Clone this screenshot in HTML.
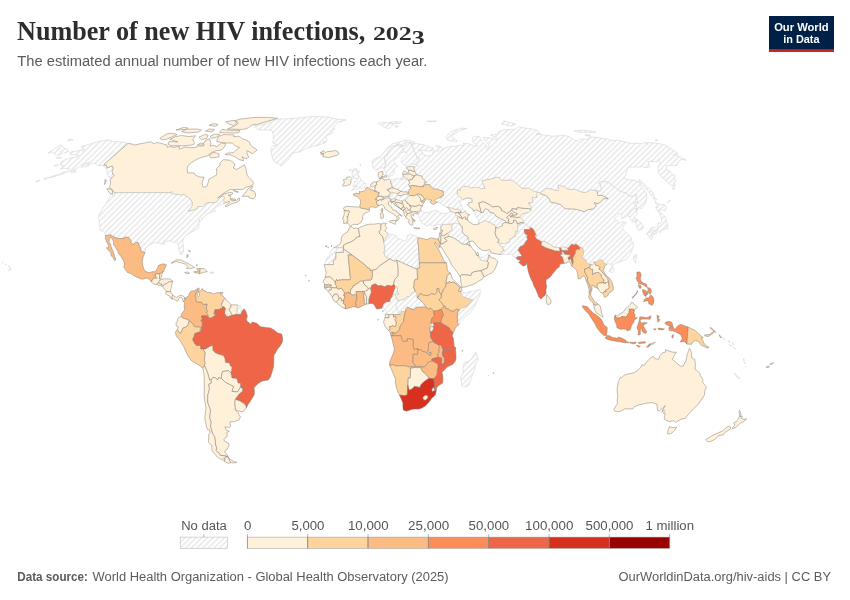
<!DOCTYPE html>
<html lang="en"><head><meta charset="utf-8"><title>Number of new HIV infections, 2023</title>
<style>
html,body{margin:0;padding:0;background:#fff;}
body{width:850px;height:600px;overflow:hidden;font-family:"Liberation Sans",sans-serif;}
svg{display:block;will-change:transform}
text{font-family:"Liberation Sans",sans-serif;}
.ttl{font-family:"Liberation Serif",serif;font-weight:700;font-size:27px;fill:#2d2d2d;}
.sub{font-size:14px;fill:#5b5b5b;}
.lg{font-size:12px;fill:#555;text-anchor:middle;}
.ft{font-size:12.5px;fill:#5b5b5b;}
.mp path{stroke:#857e78;stroke-width:0.5;stroke-linejoin:round;}
.mp path.n{fill:url(#hatch);stroke:#cfcfcf;stroke-width:0.5;}
</style></head>
<body>
<svg width="850" height="600" viewBox="0 0 850 600">
<defs>
<pattern id="hatch" patternUnits="userSpaceOnUse" width="4" height="4" patternTransform="rotate(-45 2 2)">
<rect x="-1" y="-1" width="6" height="6" fill="#fff"/>
<path d="M-1,2l6,0" stroke="#ccc" stroke-width="0.7"/>
</pattern>
</defs>
<rect width="850" height="600" fill="#fff"/>
<!-- header -->
<text class="ttl" x="17" y="39.7" textLength="348.3" lengthAdjust="spacingAndGlyphs">Number of new HIV infections,</text>
<text class="ttl" x="372.9" y="39.7" style="font-size:19.6px" textLength="51.8" lengthAdjust="spacingAndGlyphs">202<tspan dy="3.8">3</tspan></text>
<text class="sub" x="17.3" y="65.6" textLength="410" lengthAdjust="spacingAndGlyphs">The estimated annual number of new HIV infections each year.</text>
<!-- logo -->
<g>
<rect x="769" y="16" width="65" height="36" fill="#002147"/>
<rect x="769" y="49.2" width="65" height="2.8" fill="#ce261e"/>
<text x="801.4" y="30.6" text-anchor="middle" font-size="11.6" font-weight="700" fill="#fff" textLength="54.5" lengthAdjust="spacingAndGlyphs">Our World</text>
<text x="801.4" y="42.6" text-anchor="middle" font-size="11.6" font-weight="700" fill="#fff" textLength="36.3" lengthAdjust="spacingAndGlyphs">in Data</text>
</g>
<!-- map -->
<g class="mp">
<path fill="#fef0d9" d="M333.4,248.0L336.1,246.9L340.2,243.8L341.3,240.9L341.2,238.3L342.4,235.4L346.2,232.5L347.9,231.5L349.8,226.8L351.3,226.5L353.0,228.3L356.3,228.1L358.0,228.6L358.2,228.5L358.9,230.4L359.1,232.8L360.1,236.4L356.2,237.5L354.8,239.6L350.6,242.2L347.3,243.2L343.5,245.3L343.5,248.0Z"/>
<path class="n" d="M324.4,264.6L326.8,258.4L329.3,255.8L330.3,252.1L333.4,248.0L343.5,248.0L343.4,249.0L343.4,252.4L335.9,252.4L335.8,259.0L333.3,260.7L333.4,264.6Z"/>
<path fill="#fef0d9" d="M358.2,228.5L360.6,227.0L366.0,224.9L369.3,224.2L373.6,224.2L377.9,223.6L381.3,223.9L380.8,227.3L380.9,229.4L379.2,231.2L379.5,233.6L382.6,236.4L383.9,241.3L383.8,241.4L384.9,248.5L385.0,251.1L383.8,251.9L385.3,256.3L389.8,258.9L379.8,265.8L376.0,269.5L372.4,270.3L370.3,270.7L369.9,268.8L366.9,267.3L365.4,265.2L352.0,255.0L343.4,249.0L343.5,248.0L343.5,245.3L347.3,243.2L350.6,242.2L354.8,239.6L356.2,237.5L360.1,236.4L359.1,232.8L358.9,230.4Z"/>
<path fill="#fef0d9" d="M381.3,223.9L381.4,223.9L383.9,222.9L386.5,223.6L385.0,224.4L385.8,226.8L386.9,228.3L384.6,230.9L386.9,232.5L388.1,233.7L388.2,233.7L388.1,235.7L385.3,238.3L385.6,239.6L383.9,241.3L382.6,236.4L379.5,233.6L379.2,231.2L380.9,229.4L380.8,227.3Z"/>
<path class="n" d="M388.2,233.7L391.8,234.3L396.2,235.9L397.4,238.5L401.5,239.6L404.9,241.1L407.0,239.3L407.0,235.9L410.0,234.3L413.3,235.1L418.1,237.6L417.5,241.7L418.3,244.0L419.3,262.8L419.5,268.0L417.2,268.0L417.2,269.4L396.6,260.2L394.8,261.3L389.8,258.9L385.3,256.3L383.8,251.9L385.0,251.1L384.9,248.5L383.8,241.4L383.9,241.3L385.6,239.6L385.3,238.3L388.1,235.7Z"/>
<path fill="#fdd49e" d="M440.2,243.2L440.1,243.2L439.2,247.8L437.6,245.8L435.0,241.9L435.0,244.5L438.3,249.0L440.4,253.2L442.7,257.6L443.3,260.2L446.2,262.8L419.3,262.8L418.3,244.0L417.5,241.7L418.1,237.6L418.2,237.6L422.8,238.5L426.9,239.7L429.0,238.5L431.1,237.7L434.1,238.5L436.8,239.0L438.2,238.6Z"/>
<path fill="#fef0d9" d="M325.2,277.7L325.7,274.6L326.4,273.0L325.4,269.6L324.5,266.0L324.4,264.6L333.4,264.6L333.3,260.7L335.8,259.0L335.9,252.4L343.4,252.4L343.4,249.0L352.0,255.0L348.2,255.0L349.3,266.5L350.3,277.2L350.7,277.7L350.0,279.8L341.6,279.8L340.7,280.1L338.4,280.1L337.9,280.9L336.5,279.5L335.8,281.4L334.9,281.8L333.1,279.8L330.2,276.9L327.2,277.2L325.6,277.2Z"/>
<path fill="#fdd49e" d="M334.9,281.8L335.8,281.4L336.5,279.5L337.9,280.9L338.4,280.1L340.7,280.1L341.6,279.8L350.0,279.8L350.7,277.7L350.3,277.2L349.3,266.5L348.2,255.0L352.0,255.0L365.4,265.2L366.9,267.3L369.9,268.8L370.3,270.7L372.4,270.3L372.5,276.1L371.7,279.3L370.8,280.2L365.8,280.3L363.3,281.2L360.5,281.1L358.2,283.2L356.2,283.7L355.2,285.6L353.6,285.3L352.7,287.6L350.9,289.2L350.2,293.0L349.0,293.7L348.6,292.3L344.4,293.7L343.8,291.6L342.6,290.0L341.5,288.2L338.3,289.2L336.4,287.9L336.7,286.5L335.1,284.0Z"/>
<path fill="#fef0d9" d="M371.1,289.7L369.3,288.0L368.3,289.2L367.6,287.3L365.1,285.4L363.7,283.7L363.3,281.2L365.8,280.3L370.8,280.2L371.7,279.3L372.5,276.1L372.4,270.3L376.0,269.5L379.8,265.8L389.8,258.9L394.8,261.3L396.6,260.2L397.9,265.4L398.2,268.3L398.1,276.1L394.8,279.3L393.9,282.4L393.9,284.5L391.4,286.1L387.3,285.4L384.8,286.9L380.7,285.6L378.4,286.1L375.4,284.0L372.2,285.0L371.0,287.6Z"/>
<path fill="#fef0d9" d="M393.9,284.5L393.9,282.4L394.8,279.3L398.1,276.1L398.2,268.3L397.9,265.4L396.6,260.2L417.2,269.4L417.6,279.3L415.3,279.3L413.8,282.9L414.3,283.5L413.7,287.1L415.4,291.7L412.6,292.9L409.7,296.5L406.5,297.0L404.2,299.7L401.2,300.3L398.5,300.7L397.8,300.8L394.9,295.1L395.0,294.2L398.4,294.2L397.2,291.8L397.4,289.5L396.9,287.1L395.3,286.6Z"/>
<path fill="#fdd49e" d="M446.2,262.8L447.0,265.4L447.2,269.1L448.0,271.4L450.6,273.3L450.6,273.3L447.1,275.6L447.0,277.7L446.1,280.7L446.4,282.9L445.5,287.1L443.3,289.5L443.0,291.8L441.6,292.6L441.2,295.5L440.7,293.7L439.0,292.1L438.7,288.4L436.9,288.9L437.2,291.6L434.7,294.7L431.7,293.4L429.4,295.0L427.2,295.7L424.8,295.2L423.7,295.5L420.2,293.4L418.4,296.8L416.8,297.3L416.8,294.2L415.6,292.3L415.4,291.7L413.7,287.1L414.3,283.5L413.8,282.9L415.3,279.3L417.6,279.3L417.2,269.4L417.2,268.0L419.5,268.0L419.3,262.8Z"/>
<path fill="#fef0d9" d="M450.6,273.3L452.5,279.0L455.4,281.6L457.8,284.2L459.9,285.8L461.5,287.1L460.0,287.8L457.1,284.8L454.2,282.4L452.0,282.2L450.8,282.7L449.4,281.4L448.6,283.2L446.4,282.9L446.1,280.7L447.0,277.7L447.1,275.6Z"/>
<path fill="#fef0d9" d="M461.5,287.1L461.5,287.1L462.1,288.9L460.7,290.0L462.0,290.4L462.1,290.5L461.4,291.6L458.7,291.6L458.6,290.3L460.0,287.8Z"/>
<path fill="#fdd49e" d="M445.8,308.7L445.3,307.8L445.3,306.5L444.1,306.2L443.4,305.7L441.1,302.0L438.7,299.7L441.2,297.8L441.2,295.5L441.6,292.6L443.0,291.8L443.3,289.5L445.5,287.1L446.4,282.9L448.6,283.2L449.4,281.4L450.8,282.7L452.0,282.2L454.2,282.4L457.1,284.8L460.0,287.8L458.6,290.3L458.7,291.6L461.4,291.6L461.3,293.7L462.5,295.7L464.0,296.9L470.9,299.4L473.2,299.4L466.5,307.2L464.2,307.2L461.9,308.3L459.4,310.0L456.9,309.2L454.7,310.2L453.9,311.3L450.7,310.9L447.9,308.7Z"/>
<path class="n" d="M462.1,290.5L465.0,293.1L470.7,291.3L475.2,290.8L480.4,289.3L480.1,293.1L479.6,296.0L477.4,299.9L475.7,304.6L473.4,308.5L468.9,314.0L464.3,317.7L460.9,321.6L458.9,324.6L457.4,322.5L457.4,313.0L459.4,310.0L461.9,308.3L464.2,307.2L466.5,307.2L473.2,299.4L470.9,299.4L464.0,296.9L462.5,295.7L461.3,293.7L461.4,291.6Z"/>
<path fill="#fef0d9" d="M324.5,288.0L324.3,286.2L324.3,286.2L326.6,285.9L328.5,285.8L331.2,285.8L331.2,285.0L328.3,284.1L327.6,284.8L324.3,284.8L324.6,283.7L322.8,281.9L324.5,279.0L325.2,278.4L325.2,277.7L325.6,277.2L327.2,277.2L330.2,276.9L333.1,279.8L334.9,281.8L335.1,284.0L336.7,286.5L336.4,287.9L334.2,287.9L331.4,287.3L328.4,287.3Z"/>
<path fill="#fef0d9" d="M324.3,286.2L324.3,284.8L327.6,284.8L328.3,284.1L331.2,285.0L331.2,285.8L328.5,285.8L326.6,285.9Z"/>
<path fill="#fef0d9" d="M328.2,291.5L327.0,290.3L326.1,289.2L324.5,288.0L324.5,288.0L328.4,287.3L331.4,287.3L331.4,289.7L329.1,290.3Z"/>
<path fill="#fef0d9" d="M332.2,296.6L331.3,295.5L329.3,292.9L328.4,291.7L328.2,291.5L329.1,290.3L331.4,289.7L331.4,287.3L334.2,287.9L336.4,287.9L338.3,289.2L341.5,288.2L342.6,290.0L343.8,291.6L344.4,293.7L343.7,295.5L345.1,295.7L344.4,298.1L343.4,300.6L341.4,301.0L341.2,298.4L339.1,298.1L338.2,296.0L337.1,294.2L334.1,294.4L333.6,296.0Z"/>
<path fill="#fef0d9" d="M336.3,302.3L334.0,301.0L332.4,298.1L332.2,296.7L332.2,296.6L333.6,296.0L334.1,294.4L337.1,294.2L338.2,296.0L339.1,298.1L338.2,300.2Z"/>
<path fill="#fef0d9" d="M345.5,308.9L342.1,307.2L337.9,303.8L336.3,302.3L338.2,300.2L339.1,298.1L341.2,298.4L341.4,301.0L343.4,300.6L343.7,303.8L345.6,305.0L345.3,306.5Z"/>
<path fill="#fdbb84" d="M355.8,307.0L355.7,307.0L353.6,306.6L349.0,308.0L345.5,308.9L345.5,308.9L345.3,306.5L345.6,305.0L343.7,303.8L343.4,300.6L344.4,298.1L345.1,295.7L343.7,295.5L344.4,293.7L348.6,292.3L349.0,293.7L350.2,293.0L352.0,295.0L355.4,294.4L356.6,295.5L357.0,298.9L355.4,302.5L356.3,305.7Z"/>
<path fill="#fef0d9" d="M356.6,295.5L355.4,294.4L352.0,295.0L350.2,293.0L350.9,289.2L352.7,287.6L353.6,285.3L355.2,285.6L356.2,283.7L358.2,283.2L360.5,281.1L363.3,281.2L363.7,283.7L365.1,285.4L367.6,287.3L368.3,289.2L367.4,290.4L366.0,290.4L364.9,291.6L362.8,291.3L361.7,291.6L356.1,291.6Z"/>
<path fill="#fdbb84" d="M365.4,304.5L362.8,305.7L358.2,307.9L355.8,307.0L356.3,305.7L355.4,302.5L357.0,298.9L356.6,295.5L356.1,291.6L361.7,291.6L362.8,291.3L363.9,294.2L363.5,295.5L364.2,298.6L364.4,302.5Z"/>
<path fill="#fef0d9" d="M366.5,304.1L365.6,304.4L365.4,304.5L364.4,302.5L364.2,298.6L363.5,295.5L363.9,294.2L362.8,291.3L364.9,291.6L364.6,293.1L366.0,296.0L366.6,296.8L366.5,302.0Z"/>
<path fill="#fef0d9" d="M369.0,303.7L366.5,304.1L366.5,302.0L366.6,296.8L366.0,296.0L364.6,293.1L364.9,291.6L366.0,290.4L367.4,290.4L368.3,289.2L369.3,288.0L371.1,289.7L371.5,292.6L369.7,296.8L369.0,299.7Z"/>
<path fill="#ef6548" d="M382.5,308.1L382.4,308.0L378.9,308.8L376.6,309.1L374.3,305.1L373.2,303.8L370.6,303.6L369.0,303.7L369.0,299.7L369.7,296.8L371.5,292.6L371.1,289.7L371.0,287.6L372.2,285.0L375.4,284.0L378.4,286.1L380.7,285.6L384.8,286.9L387.3,285.4L391.4,286.1L393.9,284.5L395.3,286.6L395.3,287.9L394.0,291.6L393.3,293.9L392.2,297.3L390.9,298.4L390.0,302.0L387.2,302.0L386.1,302.3L384.2,303.8L383.3,305.1Z"/>
<path class="n" d="M385.4,314.3L385.4,314.3L385.2,310.4L383.3,308.3L382.5,308.1L383.3,305.1L384.2,303.8L386.1,302.3L387.2,302.0L390.0,302.0L390.9,298.4L392.2,297.3L393.3,293.9L394.0,291.6L395.3,287.9L395.3,286.6L396.9,287.1L397.4,289.5L397.2,291.8L398.4,294.2L395.0,294.2L394.9,295.1L397.8,300.8L398.5,300.7L396.4,304.1L396.2,307.2L397.4,310.1L400.2,314.6L396.3,314.6L393.5,314.6L389.0,314.6Z"/>
<path fill="#fef0d9" d="M385.0,317.7L385.4,314.3L389.0,314.6L389.0,317.7Z"/>
<path fill="#fef0d9" d="M388.5,330.6L388.4,330.5L385.2,326.6L383.6,322.4L384.3,319.3L385.0,317.7L389.0,317.7L389.0,314.6L393.5,314.6L393.5,316.9L395.8,316.6L396.3,317.9L394.9,319.8L396.3,321.9L396.0,325.3L395.3,326.8L392.3,325.5L391.6,326.6L389.6,326.6L390.2,329.4Z"/>
<path fill="#fdd49e" d="M390.4,333.3L390.0,332.1L388.5,330.6L390.2,329.4L389.6,326.6L391.6,326.6L392.3,325.5L395.3,326.8L396.0,325.3L396.3,321.9L394.9,319.8L396.3,317.9L395.8,316.6L393.5,316.9L393.5,314.6L396.3,314.6L400.2,314.6L401.1,311.2L405.7,311.2L404.6,314.6L404.1,317.7L403.6,321.6L400.2,326.0L399.7,329.4L397.8,331.5L396.0,333.1L393.7,333.1L393.0,332.3Z"/>
<path class="n" d="M400.2,314.6L397.4,310.1L396.2,307.2L396.4,304.1L398.5,300.7L401.2,300.3L404.2,299.7L406.5,297.0L409.7,296.5L412.6,292.9L415.4,291.7L415.6,292.3L416.8,294.2L416.8,297.3L419.2,298.9L420.8,300.7L423.6,303.1L425.9,307.0L421.1,307.2L419.0,307.0L415.6,307.8L414.4,309.6L410.1,308.7L407.7,307.0L405.7,308.8L405.7,311.2L401.1,311.2Z"/>
<path fill="#fdd49e" d="M444.1,306.2L442.5,307.6L441.2,309.3L437.5,310.5L436.4,310.9L433.9,311.2L430.8,308.3L428.3,309.1L425.9,307.0L423.6,303.1L420.8,300.7L419.2,298.9L416.8,297.3L418.4,296.8L420.2,293.4L423.7,295.5L424.8,295.2L427.2,295.7L429.4,295.0L431.7,293.4L434.7,294.7L437.2,291.6L436.9,288.9L438.7,288.4L439.0,292.1L440.7,293.7L441.2,295.5L441.2,297.8L438.7,299.7L441.1,302.0L443.4,305.7Z"/>
<path fill="#fdbb84" d="M391.1,336.1L390.9,335.5L392.7,335.6L393.0,332.3L393.7,333.1L396.0,333.1L397.8,331.5L399.7,329.4L400.2,326.0L403.6,321.6L404.1,317.7L404.6,314.6L405.7,311.2L405.7,308.8L407.7,307.0L410.1,308.7L414.4,309.6L415.6,307.8L419.0,307.0L421.1,307.2L425.9,307.0L428.3,309.1L430.8,308.3L433.9,311.2L433.7,314.0L435.0,314.7L433.2,317.2L431.9,318.2L431.1,321.9L431.1,324.0L429.7,327.5L430.2,330.5L430.3,331.9L430.7,337.3L433.5,341.7L429.3,342.5L428.5,344.6L428.5,348.3L427.9,351.4L429.3,352.7L431.1,352.0L431.0,355.4L429.2,355.3L427.0,353.0L425.8,352.3L422.4,351.4L420.9,349.6L418.8,350.1L417.9,348.8L414.0,349.6L412.9,345.1L413.2,342.0L413.0,339.4L407.3,338.6L407.4,341.2L403.3,341.5L401.7,339.1L401.0,335.7L393.7,335.7Z"/>
<path fill="#fc8d59" d="M441.0,322.9L433.2,323.0L431.1,324.0L431.1,321.9L431.9,318.2L433.2,317.2L435.0,314.7L433.7,314.0L433.9,311.2L436.4,310.9L437.5,310.5L441.2,309.3L442.1,310.6L443.6,315.3L442.4,317.4L441.5,319.3Z"/>
<path fill="#fdbb84" d="M458.9,324.6L458.8,324.7L457.2,326.3L455.5,327.6L454.3,330.8L453.2,332.5L449.8,329.8L449.5,328.1L441.0,322.9L441.5,319.3L442.4,317.4L443.6,315.3L442.1,310.6L441.2,309.3L442.5,307.6L444.1,306.2L445.3,306.5L445.3,307.8L445.8,308.7L447.9,308.7L450.7,310.9L453.9,311.3L454.7,310.2L456.9,309.2L459.4,310.0L457.4,313.0L457.4,322.5Z"/>
<path class="n" d="M433.2,323.0L434.0,325.5L433.2,326.6L432.0,326.4L429.7,327.5L431.1,324.0Z"/>
<path fill="#fef0d9" d="M433.2,326.6L433.8,328.9L432.0,331.7L430.3,331.9L430.2,330.5L429.7,327.5L432.0,326.4Z"/>
<path fill="#ef6548" d="M453.2,332.5L453.2,332.6L452.2,336.0L453.3,338.1L453.7,341.2L454.2,346.4L455.6,347.7L451.1,350.1L448.8,350.9L443.0,350.6L440.9,345.1L438.5,344.9L434.1,342.8L433.5,341.7L430.7,337.3L430.3,331.9L432.0,331.7L433.8,328.9L433.2,326.6L434.0,325.5L433.2,323.0L441.0,322.9L449.5,328.1L449.8,329.8Z"/>
<path fill="#fdbb84" d="M390.9,335.5L390.9,335.5L390.5,333.4L390.4,333.3L393.0,332.3L392.7,335.6Z"/>
<path fill="#fdbb84" d="M389.6,365.3L389.7,362.1L390.7,359.5L393.5,353.0L394.5,349.0L393.1,343.8L392.3,339.9L391.1,336.2L391.1,336.1L393.7,335.7L401.0,335.7L401.7,339.1L403.3,341.5L407.4,341.2L407.3,338.6L413.0,339.4L413.2,342.0L412.9,345.1L414.0,349.6L417.9,348.8L417.8,354.3L413.2,354.3L413.0,362.6L416.1,366.3L410.6,367.2L404.7,365.8L394.7,365.8L393.6,364.7Z"/>
<path fill="#fdbb84" d="M416.1,366.3L413.0,362.6L413.2,354.3L417.8,354.3L417.9,348.8L418.8,350.1L420.9,349.6L422.4,351.4L425.8,352.3L427.0,353.0L429.2,355.3L431.0,355.4L431.1,352.0L429.3,352.7L427.9,351.4L428.5,348.3L428.5,344.6L429.3,342.5L433.5,341.7L434.1,342.8L438.5,344.9L439.7,346.9L439.0,348.8L439.1,352.4L438.4,353.2L437.6,355.8L438.8,356.9L431.8,359.0L432.2,361.1L428.7,362.0L424.2,367.2L420.2,366.8Z"/>
<path fill="#fdbb84" d="M443.0,350.6L442.3,352.7L442.7,355.6L444.6,358.4L444.5,362.1L443.3,363.4L442.7,365.0L441.1,362.1L441.8,360.3L441.5,357.9L439.8,358.2L438.8,356.9L437.6,355.8L438.4,353.2L439.1,352.4L439.0,348.8L439.7,346.9L438.5,344.9L440.9,345.1Z"/>
<path fill="#ef6548" d="M455.6,347.7L455.6,347.7L455.8,353.0L456.1,358.2L455.5,360.8L452.8,364.2L447.0,367.1L443.3,371.2L441.9,372.0L442.7,375.2L442.9,379.1L442.7,383.0L438.0,386.1L436.5,388.2L436.3,390.4L434.6,390.4L434.5,388.0L434.5,383.8L433.5,378.8L436.1,375.9L437.6,372.0L437.0,371.2L437.9,367.3L437.8,363.9L434.2,362.1L432.2,361.1L431.8,359.0L438.8,356.9L439.8,358.2L441.5,357.9L441.8,360.3L441.1,362.1L442.7,365.0L443.3,363.4L444.5,362.1L444.6,358.4L442.7,355.6L442.3,352.7L443.0,350.6L448.8,350.9L451.1,350.1Z"/>
<path fill="#fdbb84" d="M429.1,378.3L425.5,373.9L422.2,371.2L420.2,366.8L424.2,367.2L428.7,362.0L432.2,361.1L434.2,362.1L437.8,363.9L437.9,367.3L437.0,371.2L437.6,372.0L436.1,375.9L433.5,378.8Z"/>
<path fill="#fef0d9" d="M407.7,385.0L408.0,377.8L410.2,377.8L410.5,368.1L415.8,367.3L417.4,367.6L420.2,366.8L422.2,371.2L425.5,373.9L429.1,378.3L423.6,382.1L421.0,384.8L420.0,387.4L414.4,386.4L412.0,389.0L409.1,390.3Z"/>
<path fill="#fdd49e" d="M399.5,395.1L399.5,395.0L397.8,392.1L396.6,388.2L395.4,383.0L395.5,379.1L393.4,373.9L391.2,368.6L389.6,365.4L389.6,365.3L393.6,364.7L394.7,365.8L404.7,365.8L410.6,367.2L416.1,366.3L420.2,366.8L417.4,367.6L415.8,367.3L410.5,368.1L410.2,377.8L408.0,377.8L407.7,385.0L407.3,394.5L405.0,395.8L401.5,395.3Z"/>
<path fill="#d7301f" d="M436.3,390.4L435.4,394.8L432.7,397.4L431.5,398.4L429.0,402.1L425.3,406.0L421.9,408.1L418.9,409.1L414.1,409.1L410.8,409.7L406.3,411.2L403.2,409.9L402.9,406.5L402.9,403.1L401.1,398.7L399.5,395.1L401.5,395.3L405.0,395.8L407.3,394.5L407.7,385.0L409.1,390.3L412.0,389.0L414.4,386.4L420.0,387.4L421.0,384.8L423.6,382.1L429.1,378.3L433.5,378.8L434.5,383.8L434.5,388.0L434.6,390.4Z"/>
<path class="n" d="M111.0,178.4L110.0,177.7L108.3,176.5L107.3,174.2L107.0,171.8L106.8,169.9L105.4,167.7L103.7,166.2L101.1,165.5L97.4,165.5L96.6,164.6L95.8,163.6L94.5,163.1L91.8,163.9L89.0,165.6L84.2,167.0L81.0,167.2L85.5,164.1L89.5,162.7L87.1,163.1L83.9,164.1L80.3,166.0L77.4,167.9L73.6,169.9L66.6,172.5L61.3,174.5L57.5,175.7L52.1,177.2L48.3,177.7L55.5,175.2L61.9,173.0L65.9,171.3L69.5,168.7L67.4,168.4L63.7,168.4L60.1,168.9L61.4,167.9L63.6,165.8L61.2,165.8L60.2,163.9L61.5,161.7L64.5,160.1L68.4,158.4L74.3,157.3L77.0,156.8L78.8,155.2L75.5,154.9L71.3,154.9L70.0,154.5L69.9,152.4L75.4,151.1L80.3,150.4L83.2,151.1L84.8,149.5L81.7,149.2L82.3,147.9L81.2,146.3L86.4,145.0L90.5,143.9L96.8,141.9L102.5,140.8L107.2,139.8L111.0,140.6L113.1,141.5L117.7,141.7L121.3,142.1L125.1,142.4L127.8,143.5L103.7,164.8L106.5,165.3L107.0,167.9L110.2,166.7L112.6,166.0L113.3,168.2L112.0,171.6L112.8,172.8L112.3,173.8L114.4,175.2L112.1,177.7Z"/>
<path fill="#fef0d9" d="M114.3,192.7L113.6,191.4L112.0,189.4L109.3,187.7L110.2,185.1L110.6,182.1L110.0,179.9L111.1,178.4L111.0,178.4L112.1,177.7L114.4,175.2L112.3,173.8L112.8,172.8L112.0,171.6L113.3,168.2L112.6,166.0L110.2,166.7L107.0,167.9L106.5,165.3L103.7,164.8L127.8,143.5L130.9,143.7L134.3,145.0L139.8,143.9L147.5,142.4L151.3,141.9L154.0,143.9L156.3,142.6L160.0,143.0L163.8,144.1L167.1,145.0L167.2,147.4L169.7,146.5L174.0,147.4L179.3,146.3L179.2,149.2L185.4,147.0L189.9,147.7L195.2,147.4L198.2,145.9L204.2,145.9L203.5,143.7L205.5,140.4L209.7,138.5L210.3,141.5L211.0,143.7L210.1,145.9L214.8,145.2L216.0,147.0L221.5,143.0L225.5,143.2L225.2,145.9L221.5,150.1L215.8,150.8L213.6,151.5L210.6,153.3L206.9,156.1L201.6,157.3L196.4,159.6L191.7,162.4L188.1,165.5L187.2,168.4L187.6,172.8L194.1,173.0L195.6,175.2L199.4,176.9L204.1,177.2L203.6,178.9L202.0,183.1L203.1,186.9L204.3,187.2L206.7,186.4L208.1,182.6L209.0,178.9L211.5,177.7L216.4,175.2L216.9,172.8L216.4,168.7L220.0,165.5L220.0,163.1L223.4,159.6L230.2,160.3L232.8,162.2L235.1,164.3L233.5,167.9L236.4,169.6L241.5,166.7L244.3,164.8L245.9,168.2L246.4,171.6L247.2,175.2L249.1,177.7L251.5,180.2L253.5,182.6L252.9,184.9L249.9,186.4L246.7,186.9L242.9,189.4L236.9,189.4L229.8,189.7L225.9,191.9L221.9,194.7L217.6,198.1L220.2,196.5L224.2,194.0L229.9,192.2L233.0,193.0L232.1,194.5L228.2,195.3L230.7,195.8L230.4,197.8L230.4,199.8L233.1,200.9L236.4,200.4L239.2,197.8L239.7,200.4L236.9,202.2L231.2,204.0L226.5,206.8L224.9,206.0L229.8,202.2L229.3,201.4L226.5,202.4L224.1,203.4L223.8,203.6L223.4,202.4L223.9,201.4L223.3,200.6L224.4,197.5L223.6,196.9L221.8,196.7L219.5,198.6L218.2,200.6L216.7,201.9L215.3,202.4L214.9,202.9L207.7,202.9L204.2,205.0L202.6,206.5L198.7,206.5L197.5,206.9L197.6,207.3L197.3,208.6L194.7,209.9L188.9,211.4L187.9,210.7L188.1,210.1L189.8,209.1L190.4,208.1L191.6,206.5L192.5,202.2L190.7,200.9L191.2,200.1L189.6,199.1L189.2,198.1L183.7,194.5L181.5,195.3L180.2,195.0L175.4,194.5L171.6,193.5L171.4,191.7L170.9,192.7Z"/>
<path class="n" d="M105.5,235.4L105.4,235.1L104.0,232.0L102.5,231.2L99.9,230.2L100.4,228.3L99.1,225.2L99.5,223.9L99.3,222.1L98.9,220.5L98.7,217.4L98.8,214.8L101.1,211.2L102.3,208.3L105.6,204.2L108.2,199.8L109.1,198.1L110.3,194.2L112.9,194.9L113.5,196.5L115.2,193.0L114.3,192.7L170.9,192.7L171.4,191.7L171.6,193.5L175.4,194.5L180.2,195.0L181.5,195.3L183.7,194.5L189.2,198.1L189.6,199.1L191.2,200.1L190.7,200.9L192.5,202.2L191.6,206.5L190.4,208.1L189.8,209.1L188.1,210.1L187.9,210.7L188.9,211.4L194.7,209.9L197.3,208.6L197.6,207.3L197.5,206.9L198.7,206.5L202.6,206.5L204.2,205.0L207.7,202.9L214.9,202.9L215.3,202.4L216.7,201.9L218.2,200.6L219.5,198.6L221.8,196.7L223.6,196.9L224.4,197.5L223.3,200.6L223.9,201.4L223.4,202.4L223.8,203.6L219.3,205.2L215.2,207.6L214.1,209.6L215.5,210.7L215.2,211.4L212.3,212.0L210.6,212.7L205.9,214.3L205.2,215.8L202.7,218.4L201.7,217.4L202.1,219.0L201.6,220.0L199.4,222.3L199.5,219.7L198.4,223.1L198.9,224.2L198.7,228.2L195.7,229.6L192.4,231.7L189.1,233.6L185.1,236.2L183.4,238.5L182.7,241.9L183.4,246.1L183.6,251.1L182.3,254.5L180.5,254.5L179.6,251.9L178.4,247.7L178.4,244.3L176.3,241.9L173.6,242.7L171.4,240.9L168.0,241.1L164.6,241.4L164.4,244.3L161.8,244.0L158.7,243.0L154.8,242.7L151.8,244.0L148.0,245.8L145.7,248.5L145.0,252.5L142.9,252.1L141.0,251.3L140.7,248.5L139.2,245.6L138.0,242.4L135.6,242.4L133.5,244.5L131.0,243.0L130.7,240.1L128.3,237.2L124.5,237.2L124.1,238.5L117.9,238.5L110.6,235.4L111.0,234.9Z"/>
<path fill="#fdbb84" d="M151.7,282.1L149.9,280.3L148.3,278.5L146.1,278.0L142.5,279.3L139.2,278.2L135.4,276.4L132.8,275.1L130.8,273.5L127.5,272.5L125.6,270.1L123.6,267.0L124.5,265.4L124.5,262.8L122.8,259.4L120.2,255.2L118.4,253.4L117.8,251.1L116.5,249.2L115.4,247.1L113.5,244.5L113.6,241.9L112.4,238.5L110.0,237.2L109.3,239.3L109.1,241.9L110.5,244.8L111.5,247.7L112.9,250.8L113.8,253.7L114.7,256.8L116.0,259.7L114.7,260.5L113.0,257.6L111.0,255.5L110.8,252.4L108.4,250.3L106.4,247.7L108.4,247.7L108.6,245.8L107.5,243.5L106.4,240.9L105.5,238.0L105.6,235.4L105.5,235.4L111.0,234.9L110.6,235.4L117.9,238.5L124.1,238.5L124.5,237.2L128.3,237.2L130.7,240.1L131.0,243.0L133.5,244.5L135.6,242.4L138.0,242.4L139.2,245.6L140.7,248.5L141.0,251.3L142.9,252.1L145.0,252.5L145.0,252.6L142.9,257.6L142.2,262.0L142.8,266.0L144.3,269.9L145.2,271.2L147.4,272.0L149.1,272.8L152.6,271.7L154.9,271.7L157.6,268.3L158.5,265.2L162.7,263.9L165.0,264.1L166.5,264.9L164.3,269.4L163.5,272.0L162.1,272.0L162.4,272.1L160.8,273.3L160.0,273.4L160.0,273.8L155.8,273.8L155.6,275.2L154.7,275.2L156.7,277.5L156.6,278.2L153.6,278.2L152.2,280.3Z"/>
<path fill="#fef0d9" d="M156.8,284.5L156.6,284.4L153.5,284.0L152.0,282.4L151.7,282.1L152.2,280.3L153.6,278.2L156.6,278.2L156.7,277.5L154.7,275.2L155.6,275.2L155.8,273.8L160.0,273.8L159.3,278.8L159.9,278.8L160.6,279.0L161.4,279.3L159.0,281.4L158.5,282.7Z"/>
<path fill="#fef0d9" d="M162.4,272.1L162.6,272.2L162.0,274.6L161.3,277.2L159.9,278.8L159.3,278.8L160.0,273.8L160.0,273.4L160.8,273.3Z"/>
<path fill="#fef0d9" d="M161.8,285.8L159.0,285.6L156.8,284.5L158.5,282.7L160.3,283.7L161.9,284.0Z"/>
<path fill="#fef0d9" d="M163.0,286.6L162.9,286.3L161.8,285.8L161.9,284.0L160.3,283.7L158.5,282.7L159.0,281.4L161.4,279.3L161.5,279.3L163.1,279.0L166.6,278.8L170.0,278.9L172.6,281.0L170.8,281.6L168.5,282.2L166.5,283.7L164.4,284.2Z"/>
<path fill="#fef0d9" d="M166.1,291.4L166.1,291.3L165.5,290.3L163.4,287.6L163.0,286.6L164.4,284.2L166.5,283.7L168.5,282.2L170.8,281.6L172.6,281.0L172.7,281.1L171.7,285.0L170.9,288.9L170.7,291.8L167.9,291.7Z"/>
<path fill="#fef0d9" d="M172.1,299.1L171.2,298.4L170.5,298.1L169.7,296.0L167.5,295.0L165.7,293.7L166.1,291.4L167.9,291.7L170.7,291.8L170.7,291.8L171.3,292.9L172.9,295.1L172.2,296.8Z"/>
<path fill="#fef0d9" d="M183.4,301.4L182.8,300.7L182.3,298.1L180.0,297.0L178.8,298.6L177.5,301.2L175.3,300.2L174.2,298.9L172.1,299.1L172.2,296.8L172.9,295.1L173.0,295.2L174.3,296.5L176.5,297.3L179.2,295.7L179.9,295.2L182.4,295.5L184.8,297.6L184.9,297.6L184.9,299.7Z"/>
<path fill="#fdbb84" d="M180.7,316.6L181.0,316.1L181.7,313.8L184.6,309.8L184.2,305.9L184.6,303.3L183.5,301.5L183.4,301.4L184.9,299.7L184.9,297.6L185.9,299.1L186.9,297.0L188.8,295.5L189.4,292.9L190.9,291.3L194.2,290.8L196.6,289.2L198.5,287.8L199.2,289.3L196.9,291.3L195.0,296.0L196.3,298.6L195.9,301.0L197.0,302.0L201.4,302.0L202.9,304.4L207.3,304.1L206.6,306.5L206.5,309.3L207.6,311.4L206.4,313.0L207.8,314.3L208.4,317.2L206.1,315.7L201.6,315.9L201.6,317.6L203.1,317.7L201.1,320.6L202.5,322.9L201.5,331.3L199.8,330.2L201.2,327.4L194.6,326.6L192.7,323.7L189.3,320.6L186.7,319.3L184.0,318.5Z"/>
<path fill="#fdd49e" d="M199.2,289.3L199.3,289.5L198.2,291.6L199.2,291.6L201.5,290.0L202.3,288.4L202.7,290.3L205.8,291.0L206.7,292.6L210.8,292.6L213.5,293.9L215.4,293.1L218.6,292.6L220.7,292.3L220.4,294.2L223.0,296.0L225.1,298.5L223.3,300.4L221.4,304.9L222.9,306.7L221.0,308.8L218.0,309.8L215.2,309.6L214.0,313.8L216.5,314.6L211.6,317.9L209.8,318.3L208.4,317.2L207.8,314.3L206.4,313.0L207.6,311.4L206.5,309.3L206.6,306.5L207.3,304.1L202.9,304.4L201.4,302.0L197.0,302.0L195.9,301.0L196.3,298.6L195.0,296.0L196.9,291.3Z"/>
<path fill="#fef0d9" d="M225.1,298.5L225.2,298.6L228.8,302.5L231.2,304.8L230.7,307.2L229.1,309.8L232.4,315.3L229.0,316.4L226.7,316.9L224.4,313.2L225.2,308.8L224.5,307.2L222.9,306.7L221.4,304.9L223.3,300.4Z"/>
<path fill="#fef0d9" d="M231.2,304.8L231.3,304.9L235.6,304.8L238.2,305.1L237.4,307.2L237.1,314.3L233.8,315.1L232.4,315.3L229.1,309.8L230.7,307.2Z"/>
<path class="n" d="M238.2,305.1L238.4,305.1L242.3,307.5L243.8,309.2L241.7,311.9L240.8,314.6L237.1,314.3L237.4,307.2Z"/>
<path fill="#fef0d9" d="M177.4,329.5L177.6,329.2L178.3,326.8L176.2,326.0L176.1,322.9L177.0,321.6L178.2,318.2L180.7,316.6L180.7,316.6L184.0,318.5L186.7,319.3L189.3,320.6L188.4,324.2L186.3,326.8L182.9,328.1L182.0,330.2L180.7,333.4L178.4,331.8Z"/>
<path fill="#fdd49e" d="M202.6,368.1L200.0,365.8L195.2,362.9L191.1,360.3L188.2,356.4L186.0,351.7L183.6,346.4L181.3,342.5L179.1,339.1L176.2,336.0L175.4,332.1L177.4,329.5L178.4,331.8L180.7,333.4L182.0,330.2L182.9,328.1L186.3,326.8L188.4,324.2L189.3,320.6L192.7,323.7L194.6,326.6L201.2,327.4L199.8,330.2L201.5,331.3L194.8,333.6L194.2,336.2L192.7,339.6L195.0,343.8L196.7,345.6L200.6,345.1L200.8,349.0L203.1,348.9L205.4,353.0L204.9,356.1L204.4,359.0L204.4,361.1L205.4,362.6L204.5,365.2L204.6,366.0Z"/>
<path fill="#ef6548" d="M243.8,309.2L243.8,309.3L245.2,310.1L247.4,315.9L246.3,319.8L247.4,321.6L250.9,324.2L252.0,322.1L256.7,323.2L260.6,326.8L266.4,327.6L270.5,327.9L274.0,330.0L277.5,332.8L281.7,334.1L282.7,338.8L282.3,342.2L280.1,345.9L277.2,349.6L274.6,354.3L273.8,355.6L273.8,360.8L273.6,366.8L271.7,373.3L270.2,377.3L268.1,380.1L265.4,380.4L262.5,380.9L258.6,383.0L257.2,384.6L253.9,387.7L254.4,390.8L254.2,394.8L251.1,400.0L248.2,404.2L246.2,407.9L246.0,405.7L243.9,403.6L240.0,400.9L239.1,400.8L235.3,399.2L238.6,394.5L242.6,391.1L242.7,388.7L240.4,387.2L240.6,383.3L238.1,383.0L236.8,378.6L232.0,378.0L230.9,372.9L231.6,369.9L232.0,367.3L230.1,365.5L229.6,362.9L225.5,362.6L224.9,358.2L223.2,355.6L219.0,354.3L215.2,352.7L212.8,350.3L212.8,345.6L210.0,346.2L205.6,349.0L203.1,348.9L200.8,349.0L200.6,345.1L196.7,345.6L195.0,343.8L192.7,339.6L194.2,336.2L194.8,333.6L201.5,331.3L202.5,322.9L201.1,320.6L203.1,317.7L201.6,317.6L201.6,315.9L206.1,315.7L208.4,317.2L209.8,318.3L211.6,317.9L216.5,314.6L214.0,313.8L215.2,309.6L218.0,309.8L221.0,308.8L222.9,306.7L224.5,307.2L225.2,308.8L224.4,313.2L226.7,316.9L229.0,316.4L232.4,315.3L233.8,315.1L237.1,314.3L240.8,314.6L241.7,311.9Z"/>
<path fill="#fef0d9" d="M204.6,366.0L204.5,365.2L205.4,362.6L204.4,361.1L204.4,359.0L204.9,356.1L205.4,353.0L203.1,348.9L205.6,349.0L210.0,346.2L212.8,345.6L212.8,350.3L215.2,352.7L219.0,354.3L223.2,355.6L224.9,358.2L225.5,362.6L229.6,362.9L230.1,365.5L232.0,367.3L231.6,369.9L230.9,372.9L228.7,370.7L222.6,371.5L221.8,373.9L221.3,378.4L218.5,377.8L217.8,379.9L215.5,378.0L213.2,377.3L211.2,379.9L209.6,379.9L208.6,376.5L207.9,373.9L206.4,369.9Z"/>
<path fill="#fef0d9" d="M221.3,378.4L221.8,373.9L222.6,371.5L228.7,370.7L230.9,372.9L232.0,378.0L236.8,378.6L238.1,383.0L240.6,383.3L240.4,387.2L238.0,391.6L236.7,391.9L231.9,391.4L233.5,386.4L230.2,384.8L225.5,382.5Z"/>
<path fill="#fef0d9" d="M227.7,456.5L226.0,456.5L223.7,457.5L224.6,459.9L223.8,460.2L219.1,458.5L215.8,455.5L212.0,450.4L211.6,445.3L208.3,442.0L208.7,437.7L208.7,434.6L210.0,432.5L209.6,429.9L207.3,429.4L206.6,427.4L205.5,422.2L204.8,417.5L205.4,413.0L205.9,407.8L205.5,405.2L204.6,400.0L204.1,394.8L204.4,388.2L204.2,383.0L204.2,377.8L203.7,372.6L202.8,368.2L202.6,368.1L204.6,366.0L206.4,369.9L207.9,373.9L208.6,376.5L209.6,379.9L211.2,379.9L211.4,383.0L208.8,384.3L209.5,389.0L207.9,394.8L207.7,398.7L207.8,402.6L209.3,406.5L210.5,409.9L210.1,414.3L209.8,418.3L211.3,422.2L210.5,426.1L211.7,429.9L212.8,433.8L214.7,436.4L215.4,440.2L215.5,444.1L216.8,447.9L216.0,450.4L219.0,452.9L220.7,455.5L224.6,455.5Z"/>
<path fill="#fef0d9" d="M235.4,409.3L235.2,409.1L235.5,410.4L238.3,412.5L239.0,414.9L240.4,416.7L239.2,419.8L234.4,421.6L229.8,421.9L230.7,426.3L229.6,427.6L224.9,426.8L226.3,430.2L229.3,431.2L226.8,432.5L227.3,436.4L225.3,437.7L223.9,439.7L224.2,440.8L228.5,443.3L229.0,445.3L226.8,449.9L224.6,451.4L225.6,452.9L228.2,456.5L227.7,456.5L224.6,455.5L220.7,455.5L219.0,452.9L216.0,450.4L216.8,447.9L215.5,444.1L215.4,440.2L214.7,436.4L212.8,433.8L211.7,429.9L210.5,426.1L211.3,422.2L209.8,418.3L210.1,414.3L210.5,409.9L209.3,406.5L207.8,402.6L207.7,398.7L207.9,394.8L209.5,389.0L208.8,384.3L211.4,383.0L211.2,379.9L213.2,377.3L215.5,378.0L217.8,379.9L218.5,377.8L221.3,378.4L225.5,382.5L230.2,384.8L233.5,386.4L231.9,391.4L236.7,391.9L238.0,391.6L240.4,387.2L242.7,388.7L242.6,391.1L238.6,394.5L235.3,399.2L234.9,402.6L235.2,406.5Z"/>
<path fill="#fef0d9" d="M246.2,407.9L246.0,408.3L245.9,408.6L243.3,411.6L240.5,411.5L236.5,410.2L235.4,409.3L235.2,406.5L234.9,402.6L235.3,399.2L239.1,400.8L240.0,400.9L243.9,403.6L246.0,405.7Z"/>
<path fill="#fef0d9" d="M441.0,229.9L441.0,229.8L440.6,226.6L441.2,226.6L442.0,225.7L442.0,224.2L444.8,224.2L447.0,224.4L449.1,224.0L454.1,223.4L452.1,224.9L452.2,230.4L447.8,233.2L443.7,235.9L441.3,234.9L440.9,233.4L441.3,233.0L442.7,230.9L442.2,230.2Z"/>
<path fill="#fef0d9" d="M439.5,233.8L440.4,231.7L441.0,229.9L442.2,230.2L442.7,230.9L441.3,233.0L440.9,233.4Z"/>
<path fill="#fef0d9" d="M440.5,243.4L440.5,243.1L440.2,243.2L438.2,238.6L438.4,238.5L439.2,236.7L439.5,233.8L439.5,233.8L440.9,233.4L441.3,234.9L440.9,235.7L441.1,238.0L440.7,241.9Z"/>
<path fill="#fef0d9" d="M440.5,243.7L440.5,243.6L440.5,243.4L440.7,241.9L441.1,238.0L440.9,235.7L441.3,234.9L443.7,235.9L447.8,233.2L449.0,236.3L444.4,238.0L446.9,240.6L445.9,241.9L444.3,242.3L443.0,244.0Z"/>
<path class="n" d="M470.5,242.1L469.1,241.9L469.2,242.1L468.4,241.7L467.9,241.9L466.2,244.3L462.1,244.0L455.7,239.0L451.7,237.0L449.0,236.3L447.8,233.2L452.2,230.4L452.1,224.9L454.1,223.4L459.4,223.3L461.2,226.3L462.5,226.8L462.3,230.0L462.2,231.7L463.7,234.1L468.2,237.2L468.1,239.3L469.0,240.6Z"/>
<path fill="#fef0d9" d="M469.2,242.1L469.3,243.5L470.4,245.5L469.0,245.8L468.2,244.5L466.2,244.3L467.9,241.9L468.4,241.7Z"/>
<path fill="#fef0d9" d="M470.4,245.5L470.5,245.7L472.2,248.5L474.9,251.1L476.1,253.7L476.7,255.5L477.3,255.5L477.2,255.4L478.5,256.0L478.5,256.0L478.8,256.8L478.9,257.3L481.3,260.3L487.3,261.0L488.5,262.8L487.5,268.0L480.9,270.7L474.4,271.7L471.9,272.8L471.0,275.6L468.7,275.2L464.1,274.8L461.4,274.8L460.2,277.0L458.4,273.8L456.3,270.7L453.4,267.3L451.2,264.1L449.6,260.2L446.4,255.5L444.6,252.4L441.2,247.1L440.1,246.9L440.5,243.7L443.0,244.0L444.3,242.3L445.9,241.9L446.9,240.6L444.4,238.0L449.0,236.3L451.7,237.0L455.7,239.0L462.1,244.0L466.2,244.3L468.2,244.5L469.0,245.8Z"/>
<path fill="#fef0d9" d="M477.2,255.4L476.7,253.4L477.5,252.1L478.6,254.2L478.5,256.0Z"/>
<path class="n" d="M478.8,256.8L480.9,257.1L484.3,257.1L486.9,254.2L488.5,252.4L489.0,251.3L489.5,255.2L488.6,255.2L488.8,257.3L487.3,261.0L481.3,260.3L478.9,257.3Z"/>
<path fill="#fef0d9" d="M489.5,255.2L491.1,257.6L494.8,258.6L497.8,261.5L496.0,266.7L494.0,270.7L491.3,273.3L488.5,274.6L485.8,275.9L483.9,276.8L480.9,270.7L487.5,268.0L488.5,262.8L487.3,261.0L488.8,257.3L488.6,255.2Z"/>
<path fill="#fef0d9" d="M483.9,276.8L483.8,276.8L482.0,279.5L479.3,280.6L474.9,283.7L471.5,285.0L465.9,286.9L462.5,287.3L461.7,285.6L460.8,281.6L460.4,277.5L460.2,277.0L461.4,274.8L464.1,274.8L468.7,275.2L471.0,275.6L471.9,272.8L474.4,271.7L480.9,270.7Z"/>
<path fill="#fef0d9" d="M501.1,254.5L501.1,254.5L497.4,254.2L494.0,253.4L491.2,252.9L489.7,249.5L485.8,250.8L482.4,250.3L478.8,247.9L476.2,245.1L473.5,241.4L471.2,240.9L470.5,242.1L470.5,242.1L469.0,240.6L468.1,239.3L468.2,237.2L463.7,234.1L462.2,231.7L462.3,230.0L462.5,226.8L461.2,226.3L459.4,223.3L457.7,221.0L456.7,217.4L458.2,216.6L462.4,218.7L464.6,216.7L465.9,217.5L465.5,219.0L467.6,219.8L467.6,219.9L469.4,222.5L470.5,222.6L473.0,224.4L475.2,224.7L479.3,223.9L478.7,222.7L478.7,222.7L480.8,222.5L483.0,220.8L485.5,220.4L488.4,222.0L490.4,222.3L493.1,224.6L494.9,224.6L495.6,227.2L495.8,230.2L495.1,232.4L496.1,236.2L496.9,238.0L499.2,239.7L497.7,242.3L500.5,245.7L502.7,246.5L502.9,249.1L504.0,249.2L504.4,250.7L501.3,251.7Z"/>
<path fill="#fef0d9" d="M450.4,211.9L450.5,211.8L450.2,210.1L448.6,208.1L447.0,207.3L450.6,207.6L454.7,209.1L457.1,208.8L460.6,210.9L461.3,213.0L457.9,212.5L454.7,213.0L452.5,212.1Z"/>
<path fill="#fef0d9" d="M458.2,216.6L455.6,215.6L454.7,213.0L457.9,212.5L459.4,213.8L460.5,215.3L461.9,217.1L462.4,218.7Z"/>
<path fill="#fef0d9" d="M465.2,211.1L466.3,212.5L467.7,214.0L469.8,214.9L468.0,215.3L467.4,217.7L467.6,219.8L465.5,219.0L465.9,217.5L464.6,216.7L462.4,218.7L461.9,217.1L460.5,215.3L459.4,213.8L457.9,212.5L461.3,213.0L460.6,210.9L462.7,212.5Z"/>
<path class="n" d="M478.7,222.7L478.1,218.7L476.8,217.7L475.3,215.8L474.9,213.0L474.2,210.9L473.4,211.3L473.4,211.2L475.1,210.1L476.4,209.8L478.4,210.9L481.1,212.5L483.2,212.5L484.3,210.1L485.6,208.7L488.6,209.9L489.7,212.2L493.7,213.0L495.7,215.8L500.1,218.6L505.7,221.0L506.0,222.7L504.1,222.9L502.5,223.4L502.4,225.5L499.8,226.6L498.2,228.2L495.6,227.2L494.9,224.6L493.1,224.6L490.4,222.3L488.4,222.0L485.5,220.4L483.0,220.8L480.8,222.5Z"/>
<path fill="#fef0d9" d="M508.9,223.1L506.0,222.7L505.7,221.0L500.1,218.6L495.7,215.8L493.7,213.0L489.7,212.2L488.6,209.9L485.6,208.7L484.3,210.1L483.2,212.5L481.1,212.5L478.6,202.9L483.6,201.5L489.7,204.7L492.2,206.8L498.1,206.3L501.1,208.1L501.7,210.7L502.8,210.8L506.4,212.9L507.0,213.6L508.5,212.3L511.9,210.0L513.2,211.7L515.4,212.7L517.6,213.8L516.3,215.1L513.7,215.3L512.8,215.3L512.6,213.8L510.9,213.2L510.1,214.0L509.8,215.3L508.6,215.6L506.7,217.7L508.4,218.7L508.8,221.0Z"/>
<path fill="#fef0d9" d="M473.4,211.2L472.6,208.8L470.0,207.6L467.3,204.7L468.6,204.2L468.8,202.4L472.2,202.2L471.8,198.8L467.0,197.8L463.3,199.6L463.1,199.8L461.9,198.7L458.2,195.3L457.0,194.2L457.0,191.9L457.5,189.4L460.4,190.4L459.7,188.7L463.3,185.9L468.6,186.4L471.4,187.7L475.1,187.5L479.3,187.5L481.7,188.8L485.1,188.2L482.9,184.4L481.8,180.4L489.1,179.3L494.3,177.8L498.9,176.9L501.0,179.9L505.6,180.2L511.2,179.7L515.0,181.9L522.1,188.2L528.6,187.7L533.9,191.2L538.8,192.3L536.3,194.2L537.4,197.7L532.2,197.3L533.2,202.4L528.2,203.2L529.5,204.0L531.7,207.7L530.8,208.1L531.5,210.1L528.7,208.6L521.5,208.3L518.1,207.6L516.8,208.1L517.1,209.5L512.0,208.6L511.9,210.0L508.5,212.3L507.0,213.6L506.4,212.9L502.8,210.8L501.7,210.7L501.1,208.1L498.1,206.3L492.2,206.8L489.7,204.7L483.6,201.5L478.6,202.9L481.1,212.5L478.4,210.9L476.4,209.8L475.1,210.1Z"/>
<path fill="#fef0d9" d="M511.9,210.0L512.0,208.6L517.1,209.5L516.8,208.1L518.1,207.6L521.5,208.3L528.7,208.6L531.5,210.1L528.6,212.5L525.3,213.4L521.5,214.5L520.0,217.3L516.4,217.5L513.0,216.9L510.5,217.0L510.3,216.1L512.8,215.3L513.7,215.3L516.3,215.1L517.6,213.8L515.4,212.7L513.2,211.7Z"/>
<path fill="#fef0d9" d="M524.2,223.0L521.0,222.5L517.2,224.0L516.4,221.3L515.7,220.3L513.6,220.3L513.8,222.2L512.2,223.4L509.5,223.8L508.9,223.1L508.8,221.0L508.4,218.7L506.7,217.7L508.6,215.6L509.8,215.3L510.1,214.0L510.9,213.2L512.6,213.8L512.8,215.3L510.3,216.1L510.5,217.0L513.0,216.9L516.4,217.5L520.0,217.3L523.1,219.7Z"/>
<path fill="#fef0d9" d="M497.7,242.3L499.2,239.7L496.9,238.0L496.1,236.2L495.1,232.4L495.8,230.2L495.6,227.2L498.2,228.2L499.8,226.6L502.4,225.5L502.5,223.4L504.1,222.9L506.0,222.7L508.9,223.1L509.5,223.8L512.2,223.4L513.8,222.2L513.6,220.3L515.7,220.3L516.4,221.3L517.2,224.0L521.0,222.5L524.2,223.0L521.6,223.9L517.7,225.2L518.2,228.3L517.9,230.4L518.1,231.3L515.5,231.5L516.7,233.2L515.1,233.8L515.4,237.0L513.0,237.2L512.3,238.3L509.5,239.4L509.6,242.3L505.1,243.5L501.5,243.5Z"/>
<path class="n" d="M516.1,258.2L514.2,257.1L512.6,255.5L512.0,253.9L507.6,254.5L503.1,254.5L501.1,254.5L501.3,251.7L504.4,250.7L504.0,249.2L502.9,249.1L502.7,246.5L500.5,245.7L497.7,242.3L501.5,243.5L505.1,243.5L509.6,242.3L509.5,239.4L512.3,238.3L513.0,237.2L515.4,237.0L515.1,233.8L516.7,233.2L515.5,231.5L518.1,231.3L517.9,230.4L518.2,228.3L517.7,225.2L521.6,223.9L524.2,223.0L526.8,224.6L527.5,226.3L531.7,227.6L530.0,227.6L530.3,229.6L524.0,229.6L524.9,233.6L528.3,235.9L526.5,236.7L527.7,239.0L525.5,242.2L523.6,245.3L519.7,247.1L518.2,250.3L519.8,252.4L522.2,256.3L517.5,256.8Z"/>
<path fill="#ef6548" d="M564.1,263.4L561.7,263.6L559.6,264.7L559.4,266.7L556.7,268.8L554.7,271.2L552.4,274.1L550.2,276.9L548.1,278.5L546.1,279.8L546.0,283.7L546.7,286.1L545.9,290.3L546.1,293.4L544.4,296.0L542.6,297.3L541.1,299.2L538.7,296.8L537.8,294.2L535.9,289.5L534.1,286.3L532.4,281.6L531.3,279.8L529.8,275.9L528.1,270.7L527.4,266.7L526.9,264.1L526.3,262.3L525.9,264.9L523.1,266.2L518.6,262.3L521.1,260.5L517.9,259.7L516.4,258.4L516.1,258.2L517.5,256.8L522.2,256.3L519.8,252.4L518.2,250.3L519.7,247.1L523.6,245.3L525.5,242.2L527.7,239.0L526.5,236.7L528.3,235.9L524.9,233.6L524.0,229.6L530.3,229.6L530.0,227.6L531.7,227.6L532.1,227.6L534.5,230.4L535.5,233.0L537.0,235.4L535.2,235.4L536.5,238.5L542.1,241.4L540.9,245.1L545.2,247.4L548.8,248.8L552.3,249.8L554.7,250.8L560.0,251.3L559.3,247.4L560.7,247.0L561.3,249.0L561.8,250.5L563.6,250.5L568.5,250.2L567.2,247.8L568.0,247.8L571.5,243.8L574.8,244.5L575.9,243.5L579.6,246.6L579.7,249.5L577.6,249.0L575.7,250.5L575.2,253.7L572.8,257.6L573.3,262.3L572.3,264.7L572.0,263.1L570.6,258.4L569.7,259.4L569.4,260.5L568.2,258.9L568.0,257.3L569.9,256.6L570.3,255.0L564.4,254.2L564.0,252.4L560.9,251.3L562.3,254.2L560.5,254.5L560.8,256.3L562.3,256.8L563.2,259.7Z"/>
<path fill="#fef0d9" d="M542.1,241.4L544.3,241.1L549.3,243.8L552.1,245.6L554.5,247.1L559.3,247.4L560.0,251.3L554.7,250.8L552.3,249.8L548.8,248.8L545.2,247.4L540.9,245.1Z"/>
<path fill="#fef0d9" d="M561.3,249.0L563.2,246.4L567.2,247.8L568.5,250.2L563.6,250.5L561.8,250.5Z"/>
<path fill="#fef0d9" d="M571.7,266.1L570.8,264.1L570.0,261.8L567.3,261.8L566.8,263.1L564.1,263.3L564.1,263.4L563.2,259.7L562.3,256.8L560.8,256.3L560.5,254.5L562.3,254.2L560.9,251.3L564.0,252.4L564.4,254.2L570.3,255.0L569.9,256.6L568.0,257.3L568.2,258.9L569.4,260.5L569.7,259.4L570.6,258.4L572.0,263.1L572.3,264.7Z"/>
<path fill="#fdd49e" d="M589.3,293.5L588.9,288.9L587.4,283.7L585.9,279.8L585.3,277.2L583.3,275.9L581.7,277.2L580.3,279.0L577.9,278.5L577.9,274.6L577.0,271.2L575.0,268.6L573.3,267.3L571.8,266.2L571.7,266.1L572.3,264.7L573.3,262.3L572.8,257.6L575.2,253.7L575.7,250.5L577.6,249.0L579.7,249.5L579.6,246.6L583.0,248.2L584.0,252.8L582.3,257.3L585.7,259.7L586.8,262.6L588.9,264.1L591.5,264.0L589.6,267.1L587.2,268.3L584.6,269.1L584.6,272.0L587.9,277.7L587.1,280.9L589.7,284.5L590.1,287.4L591.2,289.5L589.7,292.9Z"/>
<path fill="#fdd49e" d="M598.3,289.2L596.5,287.6L594.2,287.1L593.8,285.3L591.8,285.6L592.1,288.9L590.8,292.9L590.8,296.0L592.8,298.4L594.1,301.5L597.2,303.3L598.0,304.1L598.0,304.1L595.7,305.4L593.4,303.7L593.3,303.3L591.8,301.5L589.6,299.4L588.6,296.8L589.3,294.2L589.3,293.5L589.7,292.9L591.2,289.5L590.1,287.4L589.7,284.5L587.1,280.9L587.9,277.7L584.6,272.0L584.6,269.1L587.2,268.3L589.6,267.1L590.8,269.4L592.6,269.2L592.6,274.5L594.9,272.8L597.4,272.5L599.0,272.5L601.3,274.8L601.6,277.2L603.8,279.3L604.0,282.7L603.4,282.9L598.4,283.1L597.1,284.9L597.4,287.4Z"/>
<path fill="#fef0d9" d="M591.5,264.0L592.9,264.9L593.4,261.8L595.4,263.6L595.9,265.4L598.2,265.7L600.5,267.8L598.7,268.8L601.6,271.4L605.5,275.9L607.8,278.5L608.1,279.8L608.6,281.9L605.2,282.8L605.3,283.9L603.4,282.9L604.0,282.7L603.8,279.3L601.6,277.2L601.3,274.8L599.0,272.5L597.4,272.5L594.9,272.8L592.6,274.5L592.6,269.2L590.8,269.4L589.6,267.1Z"/>
<path fill="#fef0d9" d="M602.7,293.2L602.7,293.1L600.7,292.6L599.1,290.5L598.8,289.7L598.3,289.2L597.4,287.4L597.1,284.9L598.4,283.1L603.4,282.9L605.3,283.9L605.2,282.8L608.6,281.9L609.3,287.9L606.8,289.7L605.6,289.9L606.1,291.6L604.0,291.7Z"/>
<path fill="#fdd49e" d="M606.8,264.3L604.6,266.2L603.3,270.7L605.1,273.8L607.3,276.4L609.9,278.5L612.6,283.7L613.3,287.6L613.3,290.0L610.7,292.1L608.5,293.4L608.0,295.5L604.7,297.6L603.5,294.2L602.7,293.2L604.0,291.7L606.1,291.6L605.6,289.9L606.8,289.7L609.3,287.9L608.6,281.9L608.1,279.8L607.8,278.5L605.5,275.9L601.6,271.4L598.7,268.8L600.5,267.8L598.2,265.7L595.9,265.4L595.4,263.6L593.4,261.8L597.3,261.5L600.3,259.4L603.2,260.5L603.8,262.8Z"/>
<path fill="#fef0d9" d="M598.0,304.1L600.1,305.9L601.2,309.8L601.5,313.2L603.2,316.6L602.3,316.9L601.4,316.4L599.3,314.8L596.5,312.7L594.7,309.8L593.9,305.9L593.4,303.7L595.7,305.4Z"/>
<path class="n" d="M627.5,215.9L627.4,215.8L623.4,218.2L622.1,219.0L621.5,214.3L619.0,213.5L617.2,216.4L614.6,218.4L617.8,220.8L619.3,223.1L622.2,221.6L626.7,222.9L624.4,224.9L623.4,226.3L622.3,228.9L626.5,232.8L631.0,237.2L632.1,239.6L629.5,241.1L633.3,242.4L633.4,246.4L632.1,249.8L631.1,252.9L629.1,256.0L626.0,259.4L621.2,261.5L619.1,262.3L615.9,263.3L612.8,264.9L612.7,267.3L611.1,264.4L608.0,263.6L607.0,264.1L606.8,264.3L603.8,262.8L603.2,260.5L600.3,259.4L597.3,261.5L593.4,261.8L592.9,264.9L591.5,264.0L588.9,264.1L586.8,262.6L585.7,259.7L582.3,257.3L584.0,252.8L583.0,248.2L579.6,246.6L575.9,243.5L574.8,244.5L571.5,243.8L568.0,247.8L567.2,247.8L563.2,246.4L561.3,249.0L560.7,247.0L559.3,247.4L554.5,247.1L552.1,245.6L549.3,243.8L544.3,241.1L542.1,241.4L536.5,238.5L535.2,235.4L537.0,235.4L535.5,233.0L534.5,230.4L532.1,227.6L531.7,227.6L527.5,226.3L526.8,224.6L524.2,223.0L523.1,219.7L520.0,217.3L521.5,214.5L525.3,213.4L528.6,212.5L531.5,210.1L530.8,208.1L531.7,207.7L529.5,204.0L528.2,203.2L533.2,202.4L532.2,197.3L537.4,197.7L536.3,194.2L538.8,192.3L539.7,192.3L540.8,193.9L545.7,195.6L548.6,197.9L550.8,202.4L556.2,203.1L560.9,204.7L564.8,208.7L572.5,209.0L576.4,209.4L584.3,211.7L588.5,209.5L593.5,209.0L596.2,206.1L594.2,202.7L598.1,203.6L601.7,201.1L603.3,198.8L608.2,198.6L602.0,195.3L598.0,195.5L596.8,190.6L599.5,191.3L601.6,190.2L600.5,186.0L600.1,183.6L598.2,183.1L599.2,181.9L603.8,181.3L608.7,182.5L617.6,189.4L618.7,190.7L626.5,193.1L629.1,196.0L632.3,196.0L636.1,194.1L636.1,197.0L637.9,202.7L634.9,202.2L633.9,203.2L636.9,207.0L637.0,209.5L634.7,208.2L632.2,210.7L630.2,211.3L629.5,213.5Z"/>
<path fill="#fef0d9" d="M539.7,192.3L542.0,191.3L544.5,189.0L546.6,188.2L550.9,188.8L558.0,190.8L558.7,188.8L557.8,184.9L565.2,186.7L566.8,188.7L574.6,189.3L576.8,189.7L581.1,191.8L585.8,192.3L591.3,189.5L596.8,190.6L598.0,195.5L602.0,195.3L608.2,198.6L603.3,198.8L601.7,201.1L598.1,203.6L594.2,202.7L596.2,206.1L593.5,209.0L588.5,209.5L584.3,211.7L576.4,209.4L572.5,209.0L564.8,208.7L560.9,204.7L556.2,203.1L550.8,202.4L548.6,197.9L545.7,195.6L540.8,193.9Z"/>
<path class="n" d="M637.4,209.9L637.4,209.9L636.6,212.2L637.5,213.8L634.5,216.4L634.8,217.9L637.6,219.5L637.6,219.5L635.2,220.4L635.2,221.8L632.2,221.8L630.5,219.5L629.7,217.1L627.5,215.9L629.5,213.5L630.2,211.3L632.2,210.7L634.7,208.2L637.0,209.5Z"/>
<path class="n" d="M637.6,219.5L641.9,223.6L643.7,227.6L643.3,228.6L641.0,229.6L638.5,230.4L637.0,227.6L636.2,224.7L635.3,221.8L635.2,221.8L635.2,220.4Z"/>
<path class="n" d="M414.0,143.0L417.9,143.9L423.1,144.6L428.8,146.5L433.1,148.1L433.4,149.9L429.5,151.3L423.2,150.4L419.6,149.9L418.5,149.0L423.0,152.6L424.1,154.9L428.4,156.3L429.9,155.4L433.2,154.7L432.4,152.2L435.3,150.6L439.0,151.1L437.9,148.1L436.1,145.7L440.6,146.3L442.6,149.2L445.4,147.7L452.2,145.9L455.1,146.5L459.6,145.4L463.8,145.4L463.4,143.0L469.8,144.1L474.2,145.9L477.6,145.9L474.4,143.5L472.2,140.4L472.9,137.2L474.6,136.2L479.4,136.6L481.3,140.0L483.0,142.6L486.8,145.9L487.0,150.4L489.1,148.1L488.7,144.8L484.9,140.4L483.4,137.2L487.7,137.6L492.2,138.3L496.6,139.8L497.1,138.3L491.6,135.5L490.5,135.1L498.3,134.1L498.0,132.0L503.6,130.0L512.1,129.4L515.4,129.0L518.1,126.6L524.0,128.0L532.9,129.0L537.3,130.6L540.9,134.1L536.1,134.1L540.8,134.7L543.4,134.9L552.9,136.2L559.5,135.7L563.5,135.1L570.2,137.2L575.0,140.4L577.9,140.8L579.3,139.3L584.0,139.1L589.1,139.3L588.1,137.4L588.6,136.6L598.1,137.6L606.4,138.9L613.0,140.6L618.4,140.4L628.1,142.6L632.2,143.7L635.8,143.2L641.1,143.5L645.2,142.4L648.1,144.8L646.4,142.6L655.4,143.0L664.9,144.8L677.7,153.3L677.1,154.7L675.0,154.5L673.5,154.7L680.7,157.3L686.0,160.1L681.2,159.6L678.9,161.3L677.7,163.1L676.7,165.5L668.7,165.5L666.5,166.0L666.6,167.9L666.9,170.3L669.7,170.8L672.8,174.7L674.6,175.0L674.6,177.7L675.7,182.1L673.6,182.6L675.2,185.1L674.4,187.7L669.5,183.9L663.9,178.9L659.0,174.0L658.1,170.8L657.9,166.0L660.1,164.6L659.8,162.0L658.7,159.6L657.1,162.0L653.2,161.3L648.0,162.0L649.8,166.7L645.6,167.9L642.0,166.7L638.3,167.2L632.5,167.0L628.1,167.2L627.1,170.8L626.0,174.7L623.8,178.2L629.9,180.2L632.4,179.7L639.1,182.1L641.2,186.4L644.2,190.2L646.7,194.0L646.7,199.1L644.9,204.2L641.9,208.6L638.7,207.8L637.4,209.9L637.0,209.5L636.9,207.0L633.9,203.2L634.9,202.2L637.9,202.7L636.1,197.0L636.1,194.1L632.3,196.0L629.1,196.0L626.5,193.1L618.7,190.7L617.6,189.4L608.7,182.5L603.8,181.3L599.2,181.9L598.2,183.1L600.1,183.6L600.5,186.0L601.6,190.2L599.5,191.3L596.8,190.6L591.3,189.5L585.8,192.3L581.1,191.8L576.8,189.7L574.6,189.3L566.8,188.7L565.2,186.7L557.8,184.9L558.7,188.8L558.0,190.8L550.9,188.8L546.6,188.2L544.5,189.0L542.0,191.3L539.7,192.3L538.8,192.3L533.9,191.2L528.6,187.7L522.1,188.2L515.0,181.9L511.2,179.7L505.6,180.2L501.0,179.9L498.9,176.9L494.3,177.8L489.1,179.3L481.8,180.4L482.9,184.4L485.1,188.2L481.7,188.8L479.3,187.5L475.1,187.5L471.4,187.7L468.6,186.4L463.3,185.9L459.7,188.7L460.4,190.4L457.5,189.4L457.0,191.9L457.0,194.2L458.2,195.3L461.9,198.7L463.1,199.8L462.5,200.4L459.7,201.6L459.6,202.9L461.3,204.2L462.2,208.1L465.2,211.0L465.2,211.1L462.7,212.5L460.6,210.9L457.1,208.8L454.7,209.1L450.6,207.6L447.0,207.3L446.3,207.0L443.9,205.5L441.6,204.2L439.9,202.9L438.6,202.4L438.3,201.9L439.9,200.4L441.0,198.6L443.0,197.5L442.2,197.3L440.9,197.5L440.8,196.3L443.5,195.6L443.2,193.2L443.3,191.2L440.8,190.6L437.8,189.4L433.4,188.7L431.1,187.0L429.3,184.3L425.5,184.9L424.2,182.4L426.4,182.1L422.3,178.2L422.0,176.2L416.6,174.9L415.3,172.0L414.4,171.4L414.3,169.6L413.9,168.4L414.5,166.8L414.7,166.8L416.3,165.8L418.5,165.6L416.1,165.1L414.2,164.4L417.0,162.4L419.3,158.7L416.1,156.8L416.7,155.6L414.8,154.0L415.2,152.2L412.8,149.5L413.7,147.7L410.9,145.9L411.3,144.7L413.8,143.0Z"/>
<path fill="#fef0d9" d="M615.7,315.1L617.3,315.9L619.6,314.0L623.4,311.9L625.6,308.8L625.8,308.3L627.8,307.2L628.9,305.9L630.2,304.6L631.6,302.0L633.9,303.6L634.9,305.0L637.5,306.7L636.2,308.5L634.6,309.3L633.9,309.4L633.9,309.4L629.5,309.1L629.2,312.5L627.6,314.6L627.2,316.5L625.2,317.0L621.7,316.5L620.8,317.7L618.0,318.1L615.7,317.7L615.5,315.2Z"/>
<path fill="#fc8d59" d="M633.9,309.4L634.5,311.2L633.8,312.5L635.0,314.6L634.9,317.7L637.4,317.7L634.0,320.3L634.0,322.1L631.6,325.0L630.8,328.1L630.3,329.7L627.0,331.0L626.8,329.4L623.4,328.9L620.6,329.2L617.0,327.9L616.6,324.7L615.0,321.6L614.6,320.3L614.3,317.7L614.5,316.1L615.5,315.2L615.7,317.7L618.0,318.1L620.8,317.7L621.7,316.5L625.2,317.0L627.2,316.5L627.6,314.6L629.2,312.5L629.5,309.1Z"/>
<path fill="#fc8d59" d="M665.1,322.4L668.6,321.3L672.0,322.4L672.7,325.5L673.9,328.9L675.3,328.9L677.7,326.0L680.8,324.2L683.5,325.5L687.4,326.8L688.1,327.1L686.9,344.1L684.9,341.7L682.6,341.5L680.2,342.2L682.3,338.6L680.8,334.7L676.3,332.3L672.9,330.8L669.4,330.8L668.9,328.1L669.4,326.8L671.5,326.3L667.8,325.5L665.1,323.7Z"/>
<path fill="#fdd49e" d="M688.1,327.1L691.4,328.7L694.8,330.2L698.8,333.9L701.4,336.0L703.1,337.8L701.3,337.9L702.9,340.9L704.2,343.8L707.1,346.4L709.1,347.2L707.2,348.0L701.1,345.1L698.7,341.7L695.3,340.4L692.9,342.0L691.5,344.3L686.9,344.1Z"/>
<path class="n" d="M383.5,168.0L383.4,167.9L382.3,167.2L380.5,168.2L377.8,170.1L375.9,170.3L373.2,168.2L372.4,165.1L371.9,162.0L372.0,160.8L375.3,158.7L377.9,157.3L381.3,157.3L380.5,156.1L383.0,153.8L384.5,151.5L386.8,148.8L388.3,147.0L390.6,145.7L392.8,143.7L397.6,142.6L401.5,141.3L405.0,140.1L408.7,140.4L414.0,141.7L412.7,143.0L413.8,143.0L411.3,144.7L411.0,144.3L411.7,143.8L410.0,142.9L409.0,142.4L406.8,142.7L405.9,143.3L405.8,144.3L404.8,145.7L401.5,145.4L399.3,144.3L397.3,144.6L396.8,146.1L393.3,145.9L393.2,147.0L391.2,147.2L390.4,149.2L389.4,150.8L387.9,151.3L388.3,153.1L386.8,154.7L387.7,155.6L385.5,156.1L384.3,157.0L384.8,160.1L385.1,161.5L386.3,162.3L385.1,163.1L385.8,165.1L384.6,166.0L384.6,167.9Z"/>
<path class="n" d="M404.6,152.0L401.2,152.6L400.1,154.7L399.1,156.8L396.0,158.9L394.2,160.1L394.2,163.1L397.0,165.3L397.9,166.2L396.4,167.2L394.5,168.9L394.0,170.8L393.9,173.5L393.0,175.0L390.2,176.3L387.8,176.7L387.1,175.2L385.9,172.8L385.2,171.1L383.7,168.2L383.5,168.0L384.6,167.9L384.6,166.0L385.8,165.1L385.1,163.1L386.3,162.3L385.1,161.5L384.8,160.1L384.3,157.0L385.5,156.1L387.7,155.6L386.8,154.7L388.3,153.1L387.9,151.3L389.4,150.8L390.4,149.2L391.2,147.2L393.2,147.0L393.3,145.9L396.8,146.1L397.3,144.6L399.3,145.9L402.5,147.0L403.3,148.3L403.5,150.4Z"/>
<path class="n" d="M414.2,164.4L413.8,164.2L410.5,164.6L408.8,165.2L405.2,165.9L403.6,164.6L401.7,163.1L401.1,159.6L402.1,157.7L405.9,154.5L407.3,153.6L404.8,152.0L404.6,152.0L403.5,150.4L403.3,148.3L402.5,147.0L399.3,145.9L397.3,144.6L399.3,144.3L401.5,145.4L404.8,145.7L405.8,144.3L405.9,143.3L406.8,142.7L409.0,142.4L410.0,142.9L411.7,143.8L411.0,144.3L411.3,144.7L410.9,145.9L413.7,147.7L412.8,149.5L415.2,152.2L414.8,154.0L416.7,155.6L416.1,156.8L419.3,158.7L417.0,162.4Z"/>
<path fill="#fef0d9" d="M408.6,170.6L408.4,169.4L406.7,168.9L406.4,167.4L408.7,166.7L410.9,166.5L414.5,166.8L413.9,168.4L414.3,169.6L414.4,171.4L412.8,171.4L410.3,170.2Z"/>
<path fill="#fef0d9" d="M403.0,175.0L402.6,173.3L403.5,171.4L405.3,171.0L406.7,172.5L408.4,172.7L408.6,170.7L408.6,170.6L410.3,170.2L412.8,171.4L414.4,171.4L415.3,172.0L416.6,174.9L413.8,176.0L410.2,174.1L404.9,174.2Z"/>
<path fill="#fef0d9" d="M403.2,176.9L403.0,175.1L403.0,175.0L404.9,174.2L410.2,174.1L413.8,176.0L414.3,176.9L412.6,177.9L412.2,179.4L408.5,180.3L407.0,179.3L406.6,177.8L403.8,177.1Z"/>
<path class="n" d="M400.9,178.8L401.4,177.9L403.2,176.9L403.2,176.9L403.8,177.1L406.6,177.8L407.0,179.3L401.1,179.0Z"/>
<path class="n" d="M390.5,180.4L393.8,179.4L397.5,178.2L399.0,179.2L400.7,179.0L400.9,178.8L401.1,179.0L407.0,179.3L408.5,180.3L409.6,182.6L409.7,183.4L408.5,184.4L409.7,186.4L410.8,188.2L408.9,190.7L408.6,192.5L408.3,192.5L405.0,191.7L403.1,192.2L402.0,191.2L400.7,191.4L398.8,190.1L396.8,189.2L395.1,188.5L392.3,188.0L391.9,184.9L390.6,183.0L390.9,181.9Z"/>
<path fill="#fef0d9" d="M413.8,176.0L416.6,174.9L422.0,176.2L422.3,178.2L426.4,182.1L424.2,182.4L425.5,184.9L423.2,185.4L423.4,186.9L420.7,186.7L417.2,186.2L412.2,185.4L409.7,186.4L408.5,184.4L409.7,183.4L409.6,182.6L408.5,180.3L412.2,179.4L412.6,177.9L414.3,176.9Z"/>
<path fill="#fdd49e" d="M440.9,197.5L440.8,197.5L439.4,197.7L437.5,198.6L435.2,199.6L434.8,200.9L436.1,202.2L437.9,201.8L436.0,202.9L433.8,204.3L432.3,204.2L429.9,202.0L431.8,200.1L428.5,199.8L427.3,198.8L425.8,199.1L425.0,200.9L424.1,202.4L421.0,201.8L422.3,200.4L424.5,199.3L424.1,198.3L421.9,195.4L418.5,194.1L416.7,194.6L413.4,195.9L409.3,195.3L407.7,194.2L408.3,192.5L408.6,192.5L408.9,190.7L410.8,188.2L409.7,186.4L412.2,185.4L417.2,186.2L420.7,186.7L423.4,186.9L423.2,185.4L425.5,184.9L429.3,184.3L431.1,187.0L433.4,188.7L437.8,189.4L440.8,190.6L443.3,191.2L443.2,193.2L443.5,195.6L440.8,196.3Z"/>
<path fill="#fef0d9" d="M421.0,201.8L420.3,198.3L418.8,196.5L416.7,194.6L418.5,194.1L421.9,195.4L424.1,198.3L424.5,199.3L422.3,200.4Z"/>
<path fill="#fef0d9" d="M424.1,202.4L424.1,202.4L422.4,205.0L422.4,206.0L418.9,205.1L416.0,206.4L410.7,206.0L410.0,205.0L408.7,204.1L407.1,203.4L407.2,202.4L404.5,200.0L406.8,198.3L409.3,195.3L413.4,195.9L416.7,194.6L418.8,196.5L420.3,198.3L421.0,201.8Z"/>
<path fill="#fef0d9" d="M422.4,206.0L422.4,206.1L421.1,207.6L420.5,209.4L421.7,210.7L420.2,210.4L418.3,211.4L417.9,212.3L414.5,211.8L411.3,212.3L409.8,209.9L410.9,207.7L409.4,205.5L410.0,205.0L410.7,206.0L416.0,206.4L418.9,205.1Z"/>
<path fill="#fef0d9" d="M418.0,214.1L418.0,214.0L415.7,213.5L413.7,214.0L413.6,215.8L411.4,214.5L410.9,215.8L412.4,218.2L411.8,219.0L414.3,220.5L414.5,221.8L413.1,221.0L412.0,221.3L412.8,222.6L412.7,224.9L411.5,225.2L409.7,224.2L408.2,221.6L409.3,220.3L407.3,219.0L405.8,216.9L405.4,216.6L405.4,216.6L406.6,215.6L407.2,213.6L408.9,213.4L411.3,212.3L414.5,211.8L417.9,212.3L418.3,211.4L419.0,212.5Z"/>
<path class="n" d="M440.6,226.6L440.6,226.5L441.0,224.4L439.5,224.7L437.5,224.2L435.8,225.7L433.2,226.0L429.1,224.0L428.6,225.5L426.0,225.5L423.7,224.2L421.9,223.6L421.2,221.3L419.2,220.3L420.4,219.7L419.8,217.7L418.4,217.1L418.5,215.8L418.0,214.1L419.0,212.5L418.3,211.4L420.2,210.4L421.7,210.7L421.7,210.8L424.3,212.7L429.1,212.5L432.9,210.7L436.9,210.5L439.7,212.5L444.1,213.4L447.4,213.2L450.4,211.9L452.5,212.1L454.7,213.0L455.6,215.6L458.2,216.6L456.7,217.4L457.7,221.0L459.4,223.3L454.1,223.4L449.1,224.0L447.0,224.4L444.8,224.2L442.0,224.2L442.0,225.7L441.2,226.6Z"/>
<path fill="#fef0d9" d="M405.4,216.6L404.0,214.8L403.8,212.2L403.7,211.0L403.4,210.9L403.4,210.1L403.9,209.1L405.0,209.2L406.2,211.0L406.1,212.2L407.2,213.6L406.6,215.6Z"/>
<path fill="#fef0d9" d="M406.2,211.0L408.1,210.0L409.8,209.9L411.3,212.3L408.9,213.4L407.2,213.6L406.1,212.2Z"/>
<path class="n" d="M405.0,209.2L405.4,208.5L406.4,207.4L407.7,208.5L408.1,210.0L406.2,211.0Z"/>
<path fill="#fef0d9" d="M401.7,200.6L404.5,200.0L407.2,202.4L407.1,203.4L408.7,204.1L410.0,205.0L409.4,205.5L410.9,207.7L409.8,209.9L408.1,210.0L407.7,208.5L406.4,207.4L405.4,208.5L404.6,207.8L402.9,206.8L403.5,206.7L403.0,204.7L402.1,203.3L402.3,202.4Z"/>
<path fill="#fef0d9" d="M403.4,210.9L401.7,209.6L401.5,209.2L401.9,207.6L402.9,206.8L404.6,207.8L405.4,208.5L405.0,209.2L403.9,209.1L403.4,210.1Z"/>
<path fill="#fef0d9" d="M401.5,209.2L399.6,208.1L396.5,205.0L395.4,203.4L395.3,202.4L397.9,202.4L402.1,203.3L403.0,204.7L403.5,206.7L402.9,206.8L401.9,207.6Z"/>
<path fill="#fef0d9" d="M401.7,209.6L401.6,209.5L399.7,208.3L397.0,206.8L394.4,205.0L392.7,202.2L391.6,203.4L390.9,201.8L392.9,201.3L394.4,201.8L395.1,200.7L394.9,199.8L396.8,199.2L398.8,200.5L401.7,200.6L402.3,202.4L402.1,203.3L397.9,202.4L395.3,202.4L395.4,203.4L396.5,205.0L399.6,208.1L401.5,209.2Z"/>
<path fill="#fef0d9" d="M390.9,201.8L390.8,201.6L391.0,201.4L391.0,201.2L391.3,201.2L390.6,200.4L390.9,199.1L393.5,198.8L395.7,198.2L396.8,199.2L394.9,199.8L395.1,200.7L394.4,201.8L392.9,201.3Z"/>
<path class="n" d="M397.6,195.3L401.0,195.8L403.4,194.7L406.3,194.0L407.7,194.2L409.3,195.3L406.8,198.3L404.5,200.0L401.7,200.6L398.8,200.5L396.8,199.2L395.7,198.2L396.4,196.8L397.6,196.0Z"/>
<path fill="#fef0d9" d="M400.7,191.4L402.0,191.2L403.1,192.2L405.0,191.7L408.3,192.5L407.7,194.2L406.3,194.0L403.4,194.7L401.0,195.8L397.6,195.3L397.1,193.7L399.1,192.7Z"/>
<path fill="#fef0d9" d="M392.3,188.0L395.1,188.5L396.8,189.2L398.8,190.1L400.7,191.4L399.1,192.7L397.1,193.7L393.1,192.7L390.8,193.3L390.7,193.2L387.9,190.7L387.0,189.4L388.8,189.0L391.2,187.7Z"/>
<path class="n" d="M390.8,193.3L393.1,192.7L397.1,193.7L397.6,195.3L397.6,196.0L396.4,196.8L395.7,198.2L393.5,198.8L390.9,199.1L387.7,197.8L385.3,198.3L384.2,198.2L382.4,197.7L382.2,196.4L384.2,196.8L387.6,196.3L389.3,196.5L388.8,195.0L389.9,194.2Z"/>
<path fill="#fef0d9" d="M382.2,196.4L382.4,197.7L384.2,198.2L383.5,199.7L381.9,199.1L381.3,200.7L380.1,199.2L379.0,200.5L377.3,200.6L376.7,199.3L375.4,200.0L375.3,199.3L377.1,196.8L378.3,196.3L380.3,196.0Z"/>
<path fill="#fef0d9" d="M376.8,181.9L376.9,181.9L378.4,180.9L379.5,180.4L380.0,179.4L379.4,178.0L381.9,178.1L381.9,178.2L383.9,179.2L384.0,180.2L386.3,179.7L388.9,178.9L390.4,180.4L390.5,180.4L390.9,181.9L390.6,183.0L391.9,184.9L392.3,188.0L391.2,187.7L388.8,189.0L387.0,189.4L387.9,190.7L390.7,193.2L390.8,193.3L389.9,194.2L388.8,195.0L389.3,196.5L387.6,196.3L384.2,196.8L382.2,196.4L380.3,196.0L378.3,196.3L378.2,194.5L379.3,192.8L375.6,191.5L375.8,190.7L375.0,189.8L374.8,188.3L375.1,186.7L374.7,185.6L376.2,185.3L376.7,184.5L376.5,183.5Z"/>
<path fill="#fef0d9" d="M379.4,178.0L379.4,177.9L378.3,176.5L378.2,174.0L378.3,172.5L382.8,171.1L382.6,174.0L383.6,174.2L382.3,175.5L381.4,176.5L381.1,177.7L381.9,178.1Z"/>
<path fill="#fef0d9" d="M370.0,186.6L370.7,185.1L372.0,182.8L373.4,182.1L376.5,181.9L376.8,181.9L376.5,183.5L376.7,184.5L376.2,185.3L374.7,185.6L375.1,186.7L374.8,188.3L374.2,188.2L374.4,187.3L372.7,186.5L371.3,186.8Z"/>
<path class="n" d="M368.0,187.4L369.4,186.8L369.9,186.7L370.0,186.6L371.3,186.8L372.7,186.5L374.4,187.3L374.2,188.2L374.8,188.3L375.0,189.8L374.3,190.4L374.5,191.3L372.5,189.8L371.2,190.3L368.8,188.3Z"/>
<path fill="#fef0d9" d="M375.6,191.5L374.5,191.3L374.3,190.4L375.0,189.8L375.8,190.7Z"/>
<path fill="#fdd49e" d="M378.6,205.9L378.4,206.0L377.4,206.8L375.8,207.8L373.2,207.0L371.1,206.8L369.3,207.8L369.3,209.5L366.5,209.4L365.8,209.1L364.3,208.6L361.3,208.3L359.3,206.9L359.7,206.5L360.3,204.0L360.5,201.6L360.3,199.8L358.3,197.5L356.7,196.3L354.1,195.8L353.1,194.2L356.7,193.2L359.6,193.6L359.6,191.1L360.6,191.8L363.0,191.4L365.8,189.9L366.0,187.9L367.9,187.4L368.0,187.4L368.8,188.3L371.2,190.3L372.5,189.8L374.5,191.3L375.6,191.5L379.3,192.8L378.2,194.5L378.3,196.3L377.1,196.8L375.3,199.3L375.4,200.0L376.7,199.3L377.3,200.6L376.5,202.7L377.3,204.7L378.8,205.1Z"/>
<path fill="#fef0d9" d="M369.3,209.5L369.3,209.5L369.7,210.9L367.4,212.2L364.7,213.2L362.2,217.1L363.2,219.0L361.7,220.3L361.3,222.1L358.9,223.6L358.3,224.4L353.3,224.4L351.2,225.9L350.7,226.3L349.2,224.7L347.9,223.1L346.9,223.1L346.8,223.1L346.7,222.1L347.8,220.5L347.2,219.9L347.8,218.4L346.8,216.7L347.9,216.6L348.4,213.5L349.7,211.7L348.9,210.8L345.5,211.0L345.8,210.5L344.1,210.8L344.1,209.4L343.3,208.1L346.1,206.3L350.7,206.5L354.9,206.9L359.0,207.2L359.3,206.9L361.3,208.3L364.3,208.6L365.8,209.1L366.5,209.4Z"/>
<path fill="#fef0d9" d="M346.8,223.1L343.6,223.6L343.9,220.0L342.5,219.1L343.9,215.3L344.4,212.7L344.1,210.9L344.1,210.8L345.8,210.5L345.5,211.0L348.9,210.8L349.7,211.7L348.4,213.5L347.9,216.6L346.8,216.7L347.8,218.4L347.2,219.9L347.8,220.5L346.7,222.1Z"/>
<path fill="#fef0d9" d="M391.0,201.2L391.0,201.0L389.8,201.1L388.2,202.2L388.6,205.0L391.2,206.5L392.6,209.6L396.5,210.9L396.4,212.0L398.8,213.2L402.1,215.6L401.8,216.4L398.9,214.5L398.2,216.6L399.3,218.4L398.2,220.0L396.5,221.2L396.4,220.5L397.0,219.2L396.9,217.1L396.4,216.1L394.7,215.3L393.1,213.8L390.3,212.6L388.7,211.4L386.1,209.6L384.8,208.3L384.3,206.8L383.2,205.2L381.3,204.5L378.6,205.9L378.8,205.1L377.3,204.7L376.5,202.7L377.3,200.6L379.0,200.5L380.1,199.2L381.3,200.7L381.9,199.1L383.5,199.7L384.2,198.2L385.3,198.3L387.7,197.8L390.9,199.1L390.6,200.4L391.3,201.2Z"/>
<path fill="#fef0d9" d="M422.7,397.6L425.1,395.3L427.1,395.3L428.1,397.1L427.3,398.7L425.2,400.2L423.4,399.5Z"/>
<path fill="#fef0d9" d="M433.0,387.6L434.4,388.1L434.6,390.4L432.7,391.6L431.7,390.1Z"/>
<path class="n" d="M475.8,351.7L477.6,356.9L478.1,360.5L476.4,362.1L475.2,367.3L472.5,375.2L469.7,383.0L468.6,385.6L464.8,387.2L461.6,385.6L461.3,381.4L460.6,377.3L463.2,372.6L462.8,368.6L464.1,362.6L468.5,361.3L472.1,358.2L473.4,355.6Z"/>
<path fill="#fef0d9" d="M228.1,457.1L230.2,459.2L234.1,461.7L236.8,462.1L234.7,462.9L230.5,462.7Z"/>
<path fill="#fef0d9" d="M228.1,457.1L230.5,462.7L228.1,463.4L224.3,461.4L224.8,459.9L224.9,458.0L226.3,457.0Z"/>
<path class="n" d="M60.7,144.8L62.5,146.3L64.1,148.1L67.6,149.2L68.7,151.3L58.8,154.9L56.4,155.4L54.5,154.3L53.2,152.6L51.6,152.0L47.9,153.3Z"/>
<path fill="#fef0d9" d="M689.9,348.3L691.6,353.0L691.6,357.7L694.8,359.5L695.4,364.7L695.1,369.4L697.5,371.0L699.9,373.3L700.5,375.9L703.0,379.6L702.5,381.7L704.4,384.6L706.4,386.9L704.7,391.4L704.5,395.0L701.2,400.0L697.9,404.9L693.5,408.6L690.9,411.7L686.7,416.4L685.4,418.3L680.8,419.3L675.6,422.4L673.6,420.6L669.8,421.6L666.2,420.3L664.4,419.3L664.3,416.7L665.4,413.6L663.4,413.3L664.2,411.5L664.0,409.7L661.7,412.3L663.1,409.1L665.4,405.5L662.4,408.3L658.9,411.2L657.5,410.4L657.1,406.5L656.9,404.2L652.0,402.6L647.0,403.1L639.8,404.7L634.7,406.5L632.7,408.9L629.4,408.9L625.0,408.9L619.5,411.7L615.3,411.5L613.9,409.9L614.5,407.8L617.4,403.9L617.2,400.0L617.6,395.5L617.1,389.8L617.4,386.9L618.0,383.0L619.6,379.1L620.6,377.3L621.7,377.5L624.2,375.2L627.3,374.1L631.5,373.3L634.9,372.3L638.8,369.4L640.7,367.3L641.9,364.7L644.2,365.5L645.6,362.9L648.2,360.5L650.5,357.7L653.2,356.4L655.6,359.0L658.7,359.2L659.9,355.6L662.6,352.7L665.4,352.2L665.7,349.6L669.0,351.1L672.7,352.2L676.4,352.2L674.1,355.6L672.4,359.5L675.4,361.8L677.4,363.7L680.3,366.0L683.3,366.0L685.9,360.8L686.9,355.6L688.2,351.7L689.2,348.8Z"/>
<path fill="#fef0d9" d="M669.5,426.6L672.6,427.6L676.8,427.1L674.5,430.5L671.9,433.0L668.9,434.1L667.5,433.8L668.0,430.5Z"/>
<path fill="#fef0d9" d="M739.4,410.2L740.3,411.7L740.9,414.3L740.0,416.7L742.3,415.9L741.4,418.5L744.2,419.3L746.7,418.8L743.8,421.4L740.4,423.2L735.8,427.4L732.5,428.9L732.1,428.1L734.8,425.3L734.0,423.7L733.7,422.9L736.5,421.4L738.8,418.3L739.6,415.4L739.1,412.3Z"/>
<path fill="#fef0d9" d="M729.2,426.1L730.8,427.4L730.2,429.2L724.8,432.5L723.2,434.8L718.6,435.9L715.2,439.0L713.9,440.0L710.6,441.5L707.7,441.8L706.7,440.8L705.5,439.7L710.9,436.4L713.2,435.1L718.3,432.8L722.3,431.0L725.1,428.9L727.1,427.1Z"/>
<path class="n" d="M281.7,166.0L278.6,163.9L274.7,162.0L272.9,159.6L271.8,155.6L271.2,152.6L270.6,149.2L272.5,145.9L277.2,144.8L272.4,142.6L273.5,140.4L273.0,138.3L273.4,136.2L272.8,133.0L272.6,131.0L269.4,130.0L261.8,130.0L258.1,129.8L255.8,128.0L255.0,125.7L263.7,124.2L269.6,122.4L269.6,120.8L276.1,119.8L279.6,119.0L291.0,118.5L299.8,117.8L311.4,116.7L319.6,116.6L328.8,117.2L332.5,118.2L337.7,119.3L346.0,119.8L341.5,121.5L337.0,122.4L335.6,125.1L333.7,127.0L334.7,129.0L332.0,131.0L333.1,133.0L327.9,135.1L325.8,137.2L327.0,139.3L326.5,141.5L323.1,142.1L325.5,142.6L321.0,144.1L316.4,145.9L310.2,146.8L305.3,149.2L299.3,152.0L293.9,152.6L291.4,154.9L289.4,158.4L285.6,162.0Z"/>
<path fill="#fef0d9" d="M244.9,129.2L239.4,129.4L227.6,129.0L233.9,126.1L237.4,124.2L238.1,122.4L234.5,120.7L240.7,119.0L253.7,117.5L267.5,117.3L277.5,118.2L272.6,119.8L263.9,122.4L257.9,124.2L251.8,125.1L248.7,127.6Z"/>
<path fill="#fef0d9" d="M233.6,125.7L227.9,123.6L225.8,121.9L233.5,120.3L236.5,121.9L235.9,123.6Z"/>
<path fill="#fef0d9" d="M238.8,132.6L235.3,133.0L219.3,132.6L221.9,129.4L226.6,130.0L233.8,130.4L240.0,130.4Z"/>
<path fill="#fef0d9" d="M243.5,160.8L238.8,159.4L234.8,156.8L230.6,154.9L225.1,154.7L227.4,153.1L233.7,152.6L236.1,150.1L239.5,147.4L235.4,145.9L232.3,143.0L226.5,143.0L221.8,142.6L216.9,141.5L217.1,139.3L219.1,136.2L223.8,134.5L228.3,134.7L233.9,134.7L233.7,136.8L238.2,136.2L240.1,136.8L242.0,138.7L246.0,140.0L249.5,142.1L250.4,144.8L253.1,147.4L256.4,149.2L256.6,150.6L252.3,153.8L249.8,152.0L246.9,150.8L247.1,153.8L248.8,157.3L246.2,158.9L242.0,156.8L243.3,159.4Z"/>
<path fill="#fef0d9" d="M193.3,144.8L184.7,145.9L177.4,145.7L171.2,145.9L168.0,144.1L169.1,141.5L177.7,141.9L169.9,139.3L175.4,136.6L181.5,135.5L189.1,136.6L195.6,135.7L192.7,139.3L194.5,142.6Z"/>
<path fill="#fef0d9" d="M162.0,139.8L159.8,138.3L167.2,133.7L172.4,133.2L177.1,134.5L171.5,137.2L166.6,139.3Z"/>
<path fill="#fef0d9" d="M198.9,132.0L187.5,133.0L181.6,131.6L186.4,129.2L197.3,129.0L201.3,130.0Z"/>
<path fill="#fef0d9" d="M206.7,138.3L201.4,139.6L198.8,137.2L204.8,134.5L208.1,135.1Z"/>
<path fill="#fef0d9" d="M211.5,138.3L210.3,136.2L214.7,134.1L219.8,134.5L217.5,137.0Z"/>
<path fill="#fef0d9" d="M218.7,157.0L211.0,158.0L209.0,155.6L214.0,152.2L219.0,153.8Z"/>
<path fill="#fef0d9" d="M212.1,132.0L205.5,131.0L209.4,129.0L214.3,129.4Z"/>
<path fill="#fef0d9" d="M186.1,129.4L176.1,130.0L183.7,127.4L188.0,128.0Z"/>
<path fill="#fef0d9" d="M215.6,126.4L209.0,125.3L213.4,123.6L218.0,124.5Z"/>
<path fill="#fef0d9" d="M201.7,145.2L197.3,145.0L200.7,143.0L203.5,143.7Z"/>
<path fill="#fef0d9" d="M242.1,196.3L244.4,194.0L248.0,188.9L251.9,186.2L252.8,186.4L250.6,190.2L254.3,191.4L255.6,194.0L255.5,196.5L253.2,198.8L249.3,198.1L248.8,196.3Z"/>
<path fill="#fef0d9" d="M107.1,188.4L112.2,189.7L112.9,194.0L110.2,193.5L107.4,190.2Z"/>
<path fill="#fef0d9" d="M104.9,182.6L104.8,179.7L106.5,179.9L104.6,184.6Z"/>
<path fill="#fef0d9" d="M233.5,190.4L238.1,191.7L238.2,192.5L234.3,191.2Z"/>
<path fill="#fef0d9" d="M231.4,198.6L235.7,199.3L234.3,200.4L231.5,199.6Z"/>
<path class="n" d="M70.9,172.0L75.6,170.3L76.1,171.6L71.5,173.3Z"/>
<path class="n" d="M43.7,178.9L47.7,177.7L47.3,178.4L43.8,179.4Z"/>
<path class="n" d="M35.8,181.6L39.7,180.2L39.1,180.9L35.7,182.1Z"/>
<path class="n" d="M56.2,157.7L60.4,157.0L61.3,158.0L57.6,158.4Z"/>
<path class="n" d="M56.8,164.8L58.5,164.8L56.7,166.0L54.2,165.8Z"/>
<path class="n" d="M8.6,270.7L11.2,269.4L9.8,267.3Z"/>
<path class="n" d="M8.1,266.0L9.7,266.0L8.6,266.6Z"/>
<path class="n" d="M5.1,264.1L6.3,264.1L5.7,264.8Z"/>
<path class="n" d="M2.0,262.6L3.1,262.3L2.7,263.1Z"/>
<path fill="#fef0d9" d="M171.0,263.1L175.7,260.2L177.1,259.8L181.3,260.0L184.5,261.8L187.7,263.3L191.5,265.4L194.7,267.5L191.6,268.3L186.6,268.4L188.0,266.5L185.3,264.1L181.0,262.8L178.1,262.3L176.0,261.3L173.3,262.8Z"/>
<path fill="#fdd49e" d="M193.8,271.6L198.3,271.7L197.6,269.6L196.4,268.6L200.2,268.6L199.7,273.8L197.3,272.9L194.5,272.8Z"/>
<path fill="#fef0d9" d="M200.2,268.6L204.1,268.6L205.5,269.9L207.4,271.7L204.2,272.2L201.4,272.8L199.7,273.8Z"/>
<path fill="#fef0d9" d="M184.6,272.5L187.8,272.0L189.5,273.3L186.5,273.8Z"/>
<path class="n" d="M210.1,272.1L213.5,272.1L213.4,273.3L210.0,273.3Z"/>
<path fill="#fef0d9" d="M187.0,254.7L188.1,254.7L188.0,257.1L186.6,257.6Z"/>
<path fill="#fef0d9" d="M188.9,250.0L190.5,251.1L190.2,251.9L188.5,250.8Z"/>
<path fill="#fef0d9" d="M196.1,265.2L197.7,264.7L197.1,265.6Z"/>
<path fill="#fef0d9" d="M221.2,292.3L222.8,292.1L222.7,293.9L220.6,293.9Z"/>
<path class="n" d="M351.4,190.1L355.8,189.4L359.8,188.4L363.8,188.2L365.6,187.2L364.4,186.4L366.1,183.6L363.4,182.6L363.0,181.2L360.3,178.4L359.7,176.5L359.0,175.7L357.1,175.2L358.0,174.2L359.0,172.3L359.4,171.3L355.6,171.1L357.2,168.9L353.5,168.9L351.9,171.6L352.1,174.0L352.2,176.7L353.6,176.2L353.3,178.4L356.2,177.9L357.0,180.2L356.9,181.6L354.0,181.6L354.8,183.1L353.5,185.1L352.5,185.6L355.9,186.7L357.5,186.4L354.5,187.2L352.8,189.2Z"/>
<path fill="#fef0d9" d="M343.4,186.4L346.4,185.6L350.2,184.6L351.1,181.9L350.8,180.2L352.1,179.2L351.6,177.7L350.9,177.2L348.8,176.9L346.8,177.4L346.4,178.9L343.4,179.7L344.2,181.9L344.1,183.6L342.3,184.9Z"/>
<path class="n" d="M350.8,180.0L352.1,179.2L351.6,177.7L350.9,177.1L348.7,177.4L348.5,177.9L347.1,178.9L348.6,179.8Z"/>
<path class="n" d="M351.0,169.1L351.2,170.3L349.6,170.8L349.5,169.9Z"/>
<path class="n" d="M359.9,164.3L361.0,164.6L360.6,165.8L359.9,165.3Z"/>
<path fill="#fef0d9" d="M322.5,156.6L327.2,157.3L329.5,157.5L334.5,155.9L337.2,155.2L339.1,153.8L337.6,151.5L335.2,150.4L331.6,151.3L327.6,151.5L325.3,152.6L323.9,150.6L320.1,152.6L324.2,153.8L320.7,154.0L323.9,155.4Z"/>
<path class="n" d="M378.4,123.3L382.9,122.4L387.2,122.6L393.5,124.5L390.4,127.0L388.6,128.8L383.7,127.0L382.0,125.5Z"/>
<path class="n" d="M389.3,122.4L395.6,121.7L401.5,122.2L399.1,123.6L391.8,123.4Z"/>
<path class="n" d="M394.6,125.7L398.4,126.3L396.5,127.4Z"/>
<path class="n" d="M446.3,138.7L449.0,140.8L453.4,141.3L457.4,141.1L452.8,137.2L451.9,135.5L454.7,133.7L458.7,131.4L463.3,129.4L466.8,128.4L463.0,128.0L457.2,129.4L452.2,131.0L449.6,133.0L447.7,135.1L446.4,137.2Z"/>
<path class="n" d="M501.3,124.2L503.8,120.7L515.9,124.2L511.0,126.1Z"/>
<path class="n" d="M574.1,131.0L581.7,130.0L595.8,132.0L588.7,132.4L580.9,132.4Z"/>
<path class="n" d="M584.9,135.1L590.5,135.1L589.0,135.7Z"/>
<path class="n" d="M426.7,121.3L431.4,120.9L436.5,121.2L431.8,121.5Z"/>
<path class="n" d="M655.2,140.4L655.9,139.3L658.1,140.6Z"/>
<path class="n" d="M69.7,139.3L73.1,139.8L67.5,140.6Z"/>
<path class="n" d="M639.2,179.4L642.9,182.6L646.7,186.4L652.6,191.9L654.8,197.8L657.3,199.6L654.7,200.4L652.0,196.5L648.2,191.4L643.7,186.4L639.7,181.9Z"/>
<path class="n" d="M672.5,188.2L674.5,188.7L673.6,189.9Z"/>
<path class="n" d="M668.0,201.6L670.8,199.8L667.0,203.2Z"/>
<path class="n" d="M656.0,209.1L655.9,207.3L658.0,207.3L655.2,201.9L659.4,204.2L664.6,204.7L666.8,207.3L664.8,210.7L659.6,209.1L658.4,209.6L660.1,211.2L658.8,212.2Z"/>
<path class="n" d="M660.5,212.2L663.0,214.5L665.6,217.1L666.2,220.3L667.0,223.6L668.2,227.0L667.3,229.1L666.2,227.8L665.2,228.9L663.9,229.9L661.3,229.9L661.5,230.7L660.4,232.8L657.7,230.9L657.6,229.9L654.8,229.9L651.9,230.7L649.0,231.6L649.1,230.4L650.8,227.8L654.3,227.4L657.6,227.0L657.9,224.2L658.3,222.3L658.6,224.2L661.0,222.6L661.7,219.7L660.9,216.4L659.4,214.3L659.3,212.7Z"/>
<path class="n" d="M651.9,233.3L652.7,231.5L655.6,230.7L657.3,232.0L656.7,233.3L654.6,233.0L654.7,234.9Z"/>
<path class="n" d="M648.8,231.7L650.9,232.5L652.2,234.1L652.4,237.2L652.1,239.3L650.0,238.5L649.1,236.2L647.5,234.9L646.6,233.3L647.9,232.5Z"/>
<path class="n" d="M635.4,254.2L636.8,255.0L636.4,257.6L635.8,261.3L635.7,263.1L633.9,260.7L633.3,258.6L634.2,255.8Z"/>
<path class="n" d="M609.3,270.1L611.0,268.0L613.5,267.8L614.6,269.1L613.8,271.2L611.8,272.8L609.8,272.0Z"/>
<path fill="#fef0d9" d="M546.6,294.7L548.8,296.8L551.1,300.7L550.9,303.3L548.5,304.9L547.1,304.1L546.5,302.0L546.1,298.9L546.5,296.8Z"/>
<path fill="#fc8d59" d="M636.9,272.0L640.0,272.0L641.3,275.1L640.2,278.5L641.2,281.6L643.6,282.9L646.5,284.2L647.2,287.4L645.2,286.3L643.2,284.8L641.2,284.0L638.8,284.2L638.5,282.4L637.2,281.1L636.0,277.7L637.0,276.9L636.9,274.6Z"/>
<path fill="#fc8d59" d="M643.7,302.0L644.2,299.7L646.6,297.8L648.7,298.1L650.9,294.7L653.2,297.3L654.0,301.2L653.4,303.8L651.7,305.7L651.2,304.4L648.9,304.1L648.2,300.4L646.6,301.0L645.4,301.0Z"/>
<path fill="#fc8d59" d="M647.6,287.6L650.5,288.4L651.5,291.6L650.4,293.7L649.5,294.2L648.3,291.8L648.1,290.0Z"/>
<path fill="#fc8d59" d="M642.6,289.5L645.4,290.3L646.4,292.9L646.0,296.5L644.3,295.5L642.9,292.9Z"/>
<path fill="#fc8d59" d="M632.4,298.4L637.2,292.9L637.4,290.5L636.5,292.9L632.9,296.8Z"/>
<path fill="#fc8d59" d="M638.2,285.3L641.0,285.8L641.1,288.2L639.5,288.2Z"/>
<path fill="#fc8d59" d="M646.5,291.6L647.6,291.0L647.7,294.2L646.4,295.2Z"/>
<path fill="#fc8d59" d="M582.4,305.7L587.5,306.7L589.4,309.3L593.5,313.2L596.5,315.1L600.5,318.5L602.3,321.1L603.9,325.0L607.3,327.6L606.9,332.1L606.5,335.5L603.8,335.5L600.2,332.1L597.1,328.1L594.5,322.9L591.3,318.2L588.9,314.3L585.3,310.6L582.7,307.2Z"/>
<path fill="#fc8d59" d="M605.0,338.1L607.0,335.7L609.3,335.7L612.6,337.5L617.2,338.3L618.4,337.0L622.0,338.3L626.1,340.4L626.1,343.0L622.0,342.2L615.9,341.2L612.5,340.7L607.7,339.4Z"/>
<path fill="#fc8d59" d="M626.2,341.7L628.9,342.0L627.7,343.3Z"/>
<path fill="#fc8d59" d="M629.6,342.0L631.2,342.2L630.2,343.6Z"/>
<path fill="#fc8d59" d="M631.4,342.5L636.5,342.0L635.3,343.6L631.8,343.8Z"/>
<path fill="#fc8d59" d="M638.6,342.2L645.5,341.7L645.2,343.0L638.7,343.6Z"/>
<path fill="#fc8d59" d="M636.3,345.1L640.3,346.2L638.4,347.2Z"/>
<path fill="#fc8d59" d="M646.4,347.2L649.0,344.3L650.2,343.8L650.1,345.1L648.8,346.9Z"/>
<path fill="#fef0d9" d="M650.2,343.8L655.4,342.2L653.6,343.8L650.1,345.1Z"/>
<path fill="#fc8d59" d="M639.7,316.9L642.0,316.9L646.6,317.7L651.2,315.9L650.1,319.3L646.7,319.0L642.0,319.0L640.0,320.3L640.9,322.9L643.2,322.7L647.3,322.7L644.3,324.7L643.1,325.5L644.9,328.9L646.8,331.5L645.8,333.4L643.5,332.8L641.8,330.2L641.9,327.6L640.4,329.4L640.2,334.7L638.1,334.9L638.3,330.8L637.0,328.1L638.1,324.2L639.3,320.8Z"/>
<path fill="#fc8d59" d="M657.0,315.1L659.3,316.4L658.2,319.0L659.8,319.5L658.0,322.4L657.3,318.2Z"/>
<path fill="#fc8d59" d="M658.0,328.1L664.5,328.9L662.6,330.0L658.4,329.4Z"/>
<path fill="#fc8d59" d="M653.4,328.7L656.2,328.9L654.9,330.2Z"/>
<path fill="#fc8d59" d="M672.0,335.5L673.4,334.7L672.9,338.1L671.8,337.5Z"/>
<path fill="#fdd49e" d="M704.5,334.9L709.6,334.4L713.7,331.3L713.1,333.4L708.3,336.5L704.9,336.0Z"/>
<path fill="#fdd49e" d="M710.7,327.4L715.1,331.3L715.4,332.8L714.4,331.3L709.9,327.9Z"/>
<path fill="#fdd49e" d="M719.2,334.7L721.8,337.8L720.2,337.3Z"/>
<path class="n" d="M723.2,337.8L725.3,339.4L724.2,339.4Z"/>
<path class="n" d="M727.6,340.2L730.4,342.2L729.0,342.0Z"/>
<path class="n" d="M729.6,344.6L732.3,345.9L730.4,345.9Z"/>
<path class="n" d="M732.4,342.2L733.5,345.1L732.7,344.3Z"/>
<path class="n" d="M733.2,347.2L735.4,348.5L733.8,348.3Z"/>
<path class="n" d="M743.6,358.7L744.7,360.3L743.6,361.1Z"/>
<path class="n" d="M744.5,362.1L745.4,363.4L744.4,363.4Z"/>
<path class="n" d="M745.6,366.3L746.2,366.8L745.5,366.8Z"/>
<path class="n" d="M734.5,372.8L739.8,378.6L738.6,378.8L734.0,373.9Z"/>
<path fill="#fef0d9" d="M766.5,366.5L769.3,366.0L768.7,367.6L766.2,367.6Z"/>
<path fill="#fef0d9" d="M770.0,364.2L773.4,362.6L772.1,364.2Z"/>
<path fill="#fef0d9" d="M433.1,228.9L434.5,228.1L437.7,227.2L436.8,228.9L434.7,229.9Z"/>
<path fill="#fef0d9" d="M413.8,227.6L416.0,227.8L420.0,228.3L417.2,229.0L414.1,228.2Z"/>
<path fill="#fef0d9" d="M412.4,219.0L414.7,220.5L415.4,221.0L413.1,218.7Z"/>
<path fill="#fef0d9" d="M389.6,221.0L391.3,220.5L396.3,220.4L395.3,222.9L395.4,224.4L393.0,223.4L389.7,222.1Z"/>
<path fill="#fef0d9" d="M380.2,213.5L382.2,212.7L383.4,214.5L383.3,217.9L382.0,218.4L380.8,218.4L380.7,215.8Z"/>
<path fill="#fdd49e" d="M380.9,209.6L382.5,208.1L382.8,210.1L382.4,212.2L381.1,211.2Z"/>
<path fill="#fef0d9" d="M325.2,246.4L326.8,245.7L326.3,247.0Z"/>
<path fill="#fef0d9" d="M327.6,247.1L328.5,246.9L328.2,247.8Z"/>
<path fill="#fef0d9" d="M331.2,245.8L331.9,245.3L331.6,246.9Z"/>
<path fill="#fef0d9" d="M308.4,280.6L309.4,280.6L309.1,281.4Z"/>
<path fill="#fef0d9" d="M305.2,275.6L306.1,275.6L305.6,276.1Z"/>
<path fill="#fef0d9" d="M384.1,176.0L385.7,175.0L386.9,176.0L386.3,177.2L384.5,177.2Z"/>
<path fill="#fef0d9" d="M381.6,176.5L383.3,176.5L383.4,177.4L381.9,177.4Z"/>
<path fill="#fef0d9" d="M462.1,350.6L462.6,350.3L462.3,351.4Z"/>
<path fill="#fef0d9" d="M492.9,372.8L493.7,372.8L493.3,373.7Z"/>
<path class="n" d="M487.9,375.2L489.1,375.2L488.4,376.1Z"/>
<path fill="#fef0d9" d="M377.8,319.4L378.4,319.5L378.0,320.3Z"/>
<path fill="#fef0d9" d="M382.4,310.6L383.3,310.6L382.9,311.7Z"/>
<path class="n" d="M625.8,308.3L628.1,307.4L628.6,308.8L627.3,309.8Z"/>
<path fill="#fff" d="M198.5,291.8L199.5,293.4L199.6,295.5L198.4,296.8L197.3,295.5L197.4,293.4Z"/>
</g>
<!-- legend -->
<g>
<text class="lg" x="204" y="529.5" textLength="45.6" lengthAdjust="spacingAndGlyphs">No data</text>
<rect x="180.2" y="537.1" width="47.4" height="11.2" fill="url(#hatch)" stroke="#bdbdbd" stroke-width="0.6"/>
<path d="M203.8,534.2V537.1" stroke="#8a8a8a" stroke-width="0.6"/>
<rect x="247.40" y="537.1" width="60.32" height="11.2" fill="#fef0d9" stroke="#9a948e" stroke-width="0.5"/>
<rect x="307.72" y="537.1" width="60.32" height="11.2" fill="#fdd49e" stroke="#9a948e" stroke-width="0.5"/>
<rect x="368.04" y="537.1" width="60.32" height="11.2" fill="#fdbb84" stroke="#9a948e" stroke-width="0.5"/>
<rect x="428.36" y="537.1" width="60.32" height="11.2" fill="#fc8d59" stroke="#9a948e" stroke-width="0.5"/>
<rect x="488.68" y="537.1" width="60.32" height="11.2" fill="#ef6548" stroke="#9a948e" stroke-width="0.5"/>
<rect x="549.00" y="537.1" width="60.32" height="11.2" fill="#d7301f" stroke="#9a948e" stroke-width="0.5"/>
<rect x="609.32" y="537.1" width="60.32" height="11.2" fill="#990000" stroke="#9a948e" stroke-width="0.5"/>
<path d="M247.40,534.2V548.3000000000001M307.72,534.2V548.3000000000001M368.04,534.2V548.3000000000001M428.36,534.2V548.3000000000001M488.68,534.2V548.3000000000001M549.00,534.2V548.3000000000001M609.32,534.2V548.3000000000001M669.64,534.2V548.3000000000001" stroke="#7d7d7d" stroke-width="0.6" fill="none"/>
<text class="lg" x="247.60" y="529.5" textLength="7.4" lengthAdjust="spacingAndGlyphs">0</text>
<text class="lg" x="307.92" y="529.5" textLength="33" lengthAdjust="spacingAndGlyphs">5,000</text>
<text class="lg" x="368.24" y="529.5" textLength="40.6" lengthAdjust="spacingAndGlyphs">10,000</text>
<text class="lg" x="428.56" y="529.5" textLength="41.2" lengthAdjust="spacingAndGlyphs">25,000</text>
<text class="lg" x="488.88" y="529.5" textLength="40.5" lengthAdjust="spacingAndGlyphs">50,000</text>
<text class="lg" x="549.20" y="529.5" textLength="48.3" lengthAdjust="spacingAndGlyphs">100,000</text>
<text class="lg" x="609.52" y="529.5" textLength="47.9" lengthAdjust="spacingAndGlyphs">500,000</text>
<text class="lg" x="669.84" y="529.5" textLength="48.5" lengthAdjust="spacingAndGlyphs">1 million</text>
</g>
<!-- footer -->
<text class="ft" x="17.3" y="580.5" font-weight="700" textLength="70.6" lengthAdjust="spacingAndGlyphs">Data source:</text>
<text class="ft" x="92.6" y="580.5" textLength="356" lengthAdjust="spacingAndGlyphs">World Health Organization - Global Health Observatory (2025)</text>
<text class="ft" x="618.5" y="580.5" textLength="212.5" lengthAdjust="spacingAndGlyphs">OurWorldinData.org/hiv-aids | CC BY</text>
</svg>
</body></html>
